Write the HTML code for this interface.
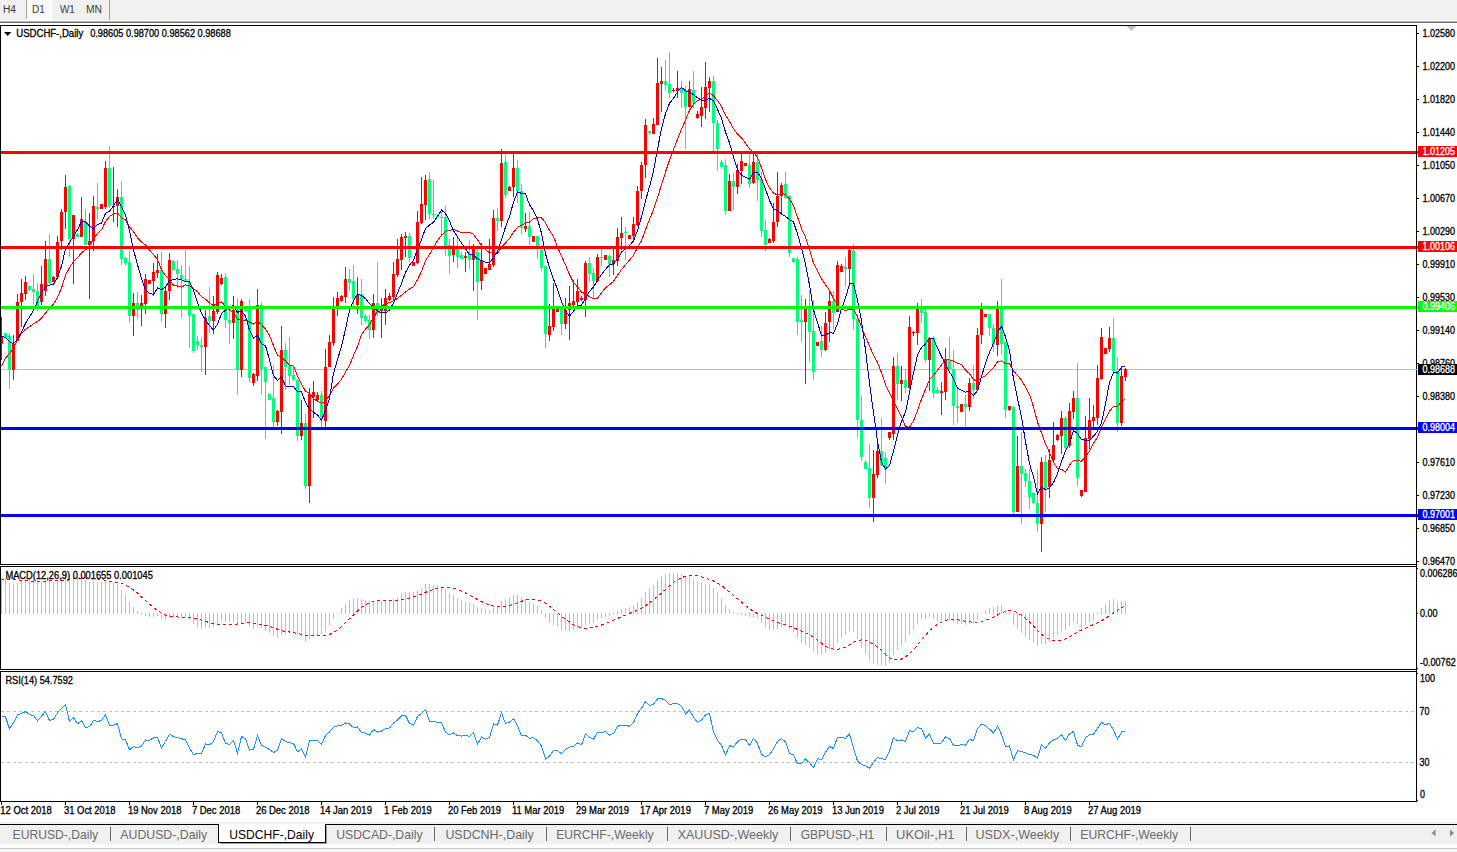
<!DOCTYPE html>
<html><head><meta charset="utf-8"><title>USDCHF-,Daily</title>
<style>html,body{margin:0;padding:0;background:#fff;overflow:hidden}body{width:1457px;height:852px;font-family:"Liberation Sans",sans-serif}</style></head>
<body>
<svg width="1457" height="852" viewBox="0 0 1457 852" style="display:block;font-family:'Liberation Sans',sans-serif">
<rect x="0" y="0" width="1457" height="852" fill="#fff"/>
<g shape-rendering="crispEdges">
<rect x="0" y="0" width="1457" height="20" fill="#f0f0f0"/>
<rect x="0" y="20" width="1457" height="1" fill="#fbfbfb"/>
<rect x="0" y="21" width="1457" height="1" fill="#b4b4b4"/>
<rect x="0" y="22" width="1457" height="1" fill="#6e6e6e"/>
<rect x="27" y="0" width="24" height="19" fill="#f8f8f8"/>
<rect x="51" y="0" width="1" height="20" fill="#fff"/>
<rect x="26" y="19" width="26" height="1" fill="#fff"/>
<rect x="26" y="0" width="1" height="19" fill="#a0a0a0"/>
<rect x="109" y="0" width="1" height="20" fill="#a0a0a0"/>
</g>
<text x="2.9" y="13" font-size="10" fill="#3a3a3a" textLength="13.0" lengthAdjust="spacingAndGlyphs">H4</text>
<text x="32.1" y="13" font-size="10" fill="#3a3a3a" textLength="12.8" lengthAdjust="spacingAndGlyphs">D1</text>
<text x="59.95" y="13" font-size="10" fill="#3a3a3a" textLength="14.85" lengthAdjust="spacingAndGlyphs">W1</text>
<text x="85.9" y="13" font-size="10" fill="#3a3a3a" textLength="16.1" lengthAdjust="spacingAndGlyphs">MN</text>
<g shape-rendering="crispEdges">
<rect x="1" y="369" width="1415" height="1" fill="#c0c0c0"/>
<rect x="1" y="317" width="1" height="43" fill="#ff0000"/>
<rect x="0" y="336" width="3" height="8" fill="#ff0000"/>
<rect x="5" y="333" width="1" height="5" fill="#00ff7f"/>
<rect x="4" y="333" width="3" height="5" fill="#00ff7f"/>
<rect x="9" y="333" width="1" height="56" fill="#00ff7f"/>
<rect x="8" y="336" width="3" height="34" fill="#00ff7f"/>
<rect x="13" y="335" width="1" height="45" fill="#ff0000"/>
<rect x="12" y="344" width="3" height="26" fill="#ff0000"/>
<rect x="17" y="294" width="1" height="47" fill="#ff0000"/>
<rect x="16" y="302" width="3" height="39" fill="#ff0000"/>
<rect x="21" y="279" width="1" height="48" fill="#ff0000"/>
<rect x="20" y="293" width="3" height="9" fill="#ff0000"/>
<rect x="25" y="276" width="1" height="24" fill="#ff0000"/>
<rect x="24" y="282" width="3" height="12" fill="#ff0000"/>
<rect x="29" y="286" width="1" height="5" fill="#00ff7f"/>
<rect x="28" y="286" width="3" height="4" fill="#00ff7f"/>
<rect x="33" y="274" width="1" height="31" fill="#00ff7f"/>
<rect x="32" y="289" width="3" height="3" fill="#00ff7f"/>
<rect x="37" y="283" width="1" height="28" fill="#00ff7f"/>
<rect x="36" y="291" width="3" height="15" fill="#00ff7f"/>
<rect x="41" y="266" width="1" height="39" fill="#ff0000"/>
<rect x="40" y="284" width="3" height="18" fill="#ff0000"/>
<rect x="45" y="241" width="1" height="55" fill="#ff0000"/>
<rect x="44" y="259" width="3" height="32" fill="#ff0000"/>
<rect x="49" y="234" width="1" height="50" fill="#00ff7f"/>
<rect x="48" y="259" width="3" height="24" fill="#00ff7f"/>
<rect x="53" y="276" width="1" height="6" fill="#ff0000"/>
<rect x="52" y="277" width="3" height="5" fill="#ff0000"/>
<rect x="57" y="236" width="1" height="41" fill="#ff0000"/>
<rect x="56" y="242" width="3" height="35" fill="#ff0000"/>
<rect x="61" y="209" width="1" height="41" fill="#ff0000"/>
<rect x="60" y="212" width="3" height="29" fill="#ff0000"/>
<rect x="65" y="175" width="1" height="54" fill="#ff0000"/>
<rect x="64" y="187" width="3" height="25" fill="#ff0000"/>
<rect x="69" y="185" width="1" height="72" fill="#00ff7f"/>
<rect x="68" y="186" width="3" height="53" fill="#00ff7f"/>
<rect x="73" y="215" width="1" height="69" fill="#ff0000"/>
<rect x="72" y="215" width="3" height="24" fill="#ff0000"/>
<rect x="77" y="233" width="1" height="4" fill="#00ff7f"/>
<rect x="76" y="234" width="3" height="3" fill="#00ff7f"/>
<rect x="81" y="197" width="1" height="40" fill="#ff0000"/>
<rect x="80" y="219" width="3" height="18" fill="#ff0000"/>
<rect x="85" y="209" width="1" height="36" fill="#00ff7f"/>
<rect x="84" y="222" width="3" height="23" fill="#00ff7f"/>
<rect x="89" y="213" width="1" height="86" fill="#ff0000"/>
<rect x="88" y="241" width="3" height="4" fill="#ff0000"/>
<rect x="93" y="196" width="1" height="55" fill="#ff0000"/>
<rect x="92" y="206" width="3" height="35" fill="#ff0000"/>
<rect x="97" y="183" width="1" height="36" fill="#00ff7f"/>
<rect x="96" y="207" width="3" height="2" fill="#00ff7f"/>
<rect x="101" y="204" width="1" height="5" fill="#ff0000"/>
<rect x="100" y="204" width="3" height="5" fill="#ff0000"/>
<rect x="105" y="161" width="1" height="48" fill="#ff0000"/>
<rect x="104" y="168" width="3" height="39" fill="#ff0000"/>
<rect x="109" y="146" width="1" height="62" fill="#00ff7f"/>
<rect x="108" y="168" width="3" height="38" fill="#00ff7f"/>
<rect x="113" y="167" width="1" height="55" fill="#ff0000"/>
<rect x="112" y="206" width="3" height="1" fill="#ff0000"/>
<rect x="117" y="189" width="1" height="38" fill="#ff0000"/>
<rect x="116" y="197" width="3" height="9" fill="#ff0000"/>
<rect x="121" y="181" width="1" height="84" fill="#00ff7f"/>
<rect x="120" y="197" width="3" height="62" fill="#00ff7f"/>
<rect x="125" y="257" width="1" height="9" fill="#00ff7f"/>
<rect x="124" y="258" width="3" height="5" fill="#00ff7f"/>
<rect x="129" y="251" width="1" height="72" fill="#00ff7f"/>
<rect x="128" y="262" width="3" height="54" fill="#00ff7f"/>
<rect x="133" y="293" width="1" height="43" fill="#ff0000"/>
<rect x="132" y="303" width="3" height="13" fill="#ff0000"/>
<rect x="137" y="292" width="1" height="27" fill="#00ff7f"/>
<rect x="136" y="303" width="3" height="7" fill="#00ff7f"/>
<rect x="141" y="295" width="1" height="31" fill="#ff0000"/>
<rect x="140" y="303" width="3" height="6" fill="#ff0000"/>
<rect x="145" y="274" width="1" height="40" fill="#ff0000"/>
<rect x="144" y="279" width="3" height="25" fill="#ff0000"/>
<rect x="149" y="280" width="1" height="4" fill="#ff0000"/>
<rect x="148" y="280" width="3" height="4" fill="#ff0000"/>
<rect x="153" y="263" width="1" height="33" fill="#ff0000"/>
<rect x="152" y="272" width="3" height="9" fill="#ff0000"/>
<rect x="157" y="254" width="1" height="24" fill="#ff0000"/>
<rect x="156" y="270" width="3" height="3" fill="#ff0000"/>
<rect x="161" y="252" width="1" height="70" fill="#00ff7f"/>
<rect x="160" y="270" width="3" height="44" fill="#00ff7f"/>
<rect x="165" y="286" width="1" height="42" fill="#ff0000"/>
<rect x="164" y="291" width="3" height="23" fill="#ff0000"/>
<rect x="169" y="253" width="1" height="47" fill="#ff0000"/>
<rect x="168" y="260" width="3" height="31" fill="#ff0000"/>
<rect x="173" y="260" width="1" height="11" fill="#00ff7f"/>
<rect x="172" y="261" width="3" height="9" fill="#00ff7f"/>
<rect x="177" y="260" width="1" height="28" fill="#00ff7f"/>
<rect x="176" y="269" width="3" height="5" fill="#00ff7f"/>
<rect x="181" y="265" width="1" height="53" fill="#00ff7f"/>
<rect x="180" y="275" width="3" height="4" fill="#00ff7f"/>
<rect x="185" y="250" width="1" height="32" fill="#00ff7f"/>
<rect x="184" y="279" width="3" height="3" fill="#00ff7f"/>
<rect x="189" y="266" width="1" height="82" fill="#00ff7f"/>
<rect x="188" y="282" width="3" height="34" fill="#00ff7f"/>
<rect x="193" y="314" width="1" height="39" fill="#00ff7f"/>
<rect x="192" y="314" width="3" height="37" fill="#00ff7f"/>
<rect x="197" y="336" width="1" height="14" fill="#00ff7f"/>
<rect x="196" y="341" width="3" height="4" fill="#00ff7f"/>
<rect x="201" y="338" width="1" height="34" fill="#00ff7f"/>
<rect x="200" y="345" width="3" height="2" fill="#00ff7f"/>
<rect x="205" y="310" width="1" height="65" fill="#ff0000"/>
<rect x="204" y="318" width="3" height="29" fill="#ff0000"/>
<rect x="209" y="287" width="1" height="46" fill="#00ff7f"/>
<rect x="208" y="316" width="3" height="5" fill="#00ff7f"/>
<rect x="213" y="296" width="1" height="38" fill="#ff0000"/>
<rect x="212" y="311" width="3" height="10" fill="#ff0000"/>
<rect x="217" y="272" width="1" height="42" fill="#ff0000"/>
<rect x="216" y="275" width="3" height="37" fill="#ff0000"/>
<rect x="221" y="274" width="1" height="11" fill="#ff0000"/>
<rect x="220" y="278" width="3" height="6" fill="#ff0000"/>
<rect x="225" y="273" width="1" height="55" fill="#00ff7f"/>
<rect x="224" y="277" width="3" height="43" fill="#00ff7f"/>
<rect x="229" y="311" width="1" height="33" fill="#00ff7f"/>
<rect x="228" y="320" width="3" height="3" fill="#00ff7f"/>
<rect x="233" y="296" width="1" height="43" fill="#ff0000"/>
<rect x="232" y="310" width="3" height="13" fill="#ff0000"/>
<rect x="237" y="298" width="1" height="97" fill="#00ff7f"/>
<rect x="236" y="310" width="3" height="60" fill="#00ff7f"/>
<rect x="241" y="299" width="1" height="78" fill="#ff0000"/>
<rect x="240" y="301" width="3" height="69" fill="#ff0000"/>
<rect x="245" y="307" width="1" height="5" fill="#00ff7f"/>
<rect x="244" y="308" width="3" height="3" fill="#00ff7f"/>
<rect x="249" y="299" width="1" height="83" fill="#00ff7f"/>
<rect x="248" y="310" width="3" height="68" fill="#00ff7f"/>
<rect x="253" y="373" width="1" height="13" fill="#ff0000"/>
<rect x="252" y="374" width="3" height="9" fill="#ff0000"/>
<rect x="257" y="289" width="1" height="92" fill="#ff0000"/>
<rect x="256" y="305" width="3" height="71" fill="#ff0000"/>
<rect x="261" y="302" width="1" height="93" fill="#00ff7f"/>
<rect x="260" y="305" width="3" height="64" fill="#00ff7f"/>
<rect x="265" y="367" width="1" height="72" fill="#00ff7f"/>
<rect x="264" y="367" width="3" height="15" fill="#00ff7f"/>
<rect x="269" y="393" width="1" height="7" fill="#00ff7f"/>
<rect x="268" y="394" width="3" height="6" fill="#00ff7f"/>
<rect x="273" y="365" width="1" height="62" fill="#00ff7f"/>
<rect x="272" y="398" width="3" height="24" fill="#00ff7f"/>
<rect x="277" y="410" width="1" height="16" fill="#ff0000"/>
<rect x="276" y="411" width="3" height="11" fill="#ff0000"/>
<rect x="281" y="326" width="1" height="108" fill="#ff0000"/>
<rect x="280" y="350" width="3" height="62" fill="#ff0000"/>
<rect x="285" y="343" width="1" height="47" fill="#00ff7f"/>
<rect x="284" y="350" width="3" height="17" fill="#00ff7f"/>
<rect x="289" y="337" width="1" height="48" fill="#00ff7f"/>
<rect x="288" y="366" width="3" height="10" fill="#00ff7f"/>
<rect x="293" y="367" width="1" height="14" fill="#00ff7f"/>
<rect x="292" y="375" width="3" height="5" fill="#00ff7f"/>
<rect x="297" y="379" width="1" height="62" fill="#00ff7f"/>
<rect x="296" y="380" width="3" height="56" fill="#00ff7f"/>
<rect x="301" y="400" width="1" height="40" fill="#ff0000"/>
<rect x="300" y="423" width="3" height="13" fill="#ff0000"/>
<rect x="305" y="414" width="1" height="75" fill="#00ff7f"/>
<rect x="304" y="423" width="3" height="63" fill="#00ff7f"/>
<rect x="309" y="388" width="1" height="115" fill="#ff0000"/>
<rect x="308" y="394" width="3" height="92" fill="#ff0000"/>
<rect x="313" y="381" width="1" height="37" fill="#ff0000"/>
<rect x="312" y="392" width="3" height="5" fill="#ff0000"/>
<rect x="317" y="392" width="1" height="10" fill="#ff0000"/>
<rect x="316" y="395" width="3" height="5" fill="#ff0000"/>
<rect x="321" y="391" width="1" height="36" fill="#00ff7f"/>
<rect x="320" y="395" width="3" height="22" fill="#00ff7f"/>
<rect x="325" y="349" width="1" height="78" fill="#ff0000"/>
<rect x="324" y="367" width="3" height="54" fill="#ff0000"/>
<rect x="329" y="335" width="1" height="32" fill="#ff0000"/>
<rect x="328" y="342" width="3" height="25" fill="#ff0000"/>
<rect x="333" y="297" width="1" height="49" fill="#ff0000"/>
<rect x="332" y="308" width="3" height="35" fill="#ff0000"/>
<rect x="337" y="292" width="1" height="24" fill="#ff0000"/>
<rect x="336" y="298" width="3" height="11" fill="#ff0000"/>
<rect x="341" y="295" width="1" height="7" fill="#ff0000"/>
<rect x="340" y="296" width="3" height="5" fill="#ff0000"/>
<rect x="345" y="267" width="1" height="36" fill="#ff0000"/>
<rect x="344" y="279" width="3" height="18" fill="#ff0000"/>
<rect x="349" y="269" width="1" height="22" fill="#00ff7f"/>
<rect x="348" y="279" width="3" height="4" fill="#00ff7f"/>
<rect x="353" y="265" width="1" height="44" fill="#00ff7f"/>
<rect x="352" y="281" width="3" height="18" fill="#00ff7f"/>
<rect x="357" y="277" width="1" height="37" fill="#ff0000"/>
<rect x="356" y="295" width="3" height="10" fill="#ff0000"/>
<rect x="361" y="279" width="1" height="46" fill="#00ff7f"/>
<rect x="360" y="294" width="3" height="24" fill="#00ff7f"/>
<rect x="365" y="314" width="1" height="9" fill="#00ff7f"/>
<rect x="364" y="316" width="3" height="5" fill="#00ff7f"/>
<rect x="369" y="315" width="1" height="24" fill="#00ff7f"/>
<rect x="368" y="320" width="3" height="10" fill="#00ff7f"/>
<rect x="373" y="294" width="1" height="44" fill="#ff0000"/>
<rect x="372" y="303" width="3" height="27" fill="#ff0000"/>
<rect x="377" y="262" width="1" height="54" fill="#00ff7f"/>
<rect x="376" y="303" width="3" height="10" fill="#00ff7f"/>
<rect x="381" y="298" width="1" height="40" fill="#ff0000"/>
<rect x="380" y="309" width="3" height="2" fill="#ff0000"/>
<rect x="385" y="289" width="1" height="36" fill="#ff0000"/>
<rect x="384" y="298" width="3" height="13" fill="#ff0000"/>
<rect x="389" y="293" width="1" height="8" fill="#ff0000"/>
<rect x="388" y="296" width="3" height="4" fill="#ff0000"/>
<rect x="393" y="262" width="1" height="38" fill="#ff0000"/>
<rect x="392" y="274" width="3" height="23" fill="#ff0000"/>
<rect x="397" y="239" width="1" height="38" fill="#ff0000"/>
<rect x="396" y="259" width="3" height="16" fill="#ff0000"/>
<rect x="401" y="234" width="1" height="36" fill="#ff0000"/>
<rect x="400" y="237" width="3" height="23" fill="#ff0000"/>
<rect x="405" y="232" width="1" height="25" fill="#ff0000"/>
<rect x="404" y="236" width="3" height="2" fill="#ff0000"/>
<rect x="409" y="233" width="1" height="29" fill="#00ff7f"/>
<rect x="408" y="236" width="3" height="22" fill="#00ff7f"/>
<rect x="413" y="262" width="1" height="4" fill="#ff0000"/>
<rect x="412" y="262" width="3" height="4" fill="#ff0000"/>
<rect x="417" y="211" width="1" height="53" fill="#ff0000"/>
<rect x="416" y="222" width="3" height="41" fill="#ff0000"/>
<rect x="421" y="177" width="1" height="47" fill="#ff0000"/>
<rect x="420" y="204" width="3" height="19" fill="#ff0000"/>
<rect x="425" y="175" width="1" height="45" fill="#ff0000"/>
<rect x="424" y="180" width="3" height="25" fill="#ff0000"/>
<rect x="429" y="172" width="1" height="47" fill="#00ff7f"/>
<rect x="428" y="179" width="3" height="35" fill="#00ff7f"/>
<rect x="433" y="180" width="1" height="39" fill="#00ff7f"/>
<rect x="432" y="214" width="3" height="1" fill="#00ff7f"/>
<rect x="437" y="216" width="1" height="1" fill="#00ff7f"/>
<rect x="436" y="216" width="3" height="1" fill="#00ff7f"/>
<rect x="441" y="212" width="1" height="22" fill="#00ff7f"/>
<rect x="440" y="217" width="3" height="1" fill="#00ff7f"/>
<rect x="445" y="205" width="1" height="51" fill="#00ff7f"/>
<rect x="444" y="217" width="3" height="29" fill="#00ff7f"/>
<rect x="449" y="239" width="1" height="35" fill="#00ff7f"/>
<rect x="448" y="245" width="3" height="11" fill="#00ff7f"/>
<rect x="453" y="237" width="1" height="25" fill="#ff0000"/>
<rect x="452" y="249" width="3" height="6" fill="#ff0000"/>
<rect x="457" y="238" width="1" height="30" fill="#00ff7f"/>
<rect x="456" y="249" width="3" height="8" fill="#00ff7f"/>
<rect x="461" y="252" width="1" height="7" fill="#00ff7f"/>
<rect x="460" y="255" width="3" height="4" fill="#00ff7f"/>
<rect x="465" y="252" width="1" height="20" fill="#ff0000"/>
<rect x="464" y="256" width="3" height="2" fill="#ff0000"/>
<rect x="469" y="240" width="1" height="29" fill="#00ff7f"/>
<rect x="468" y="254" width="3" height="6" fill="#00ff7f"/>
<rect x="473" y="244" width="1" height="47" fill="#ff0000"/>
<rect x="472" y="249" width="3" height="11" fill="#ff0000"/>
<rect x="477" y="249" width="1" height="71" fill="#00ff7f"/>
<rect x="476" y="252" width="3" height="30" fill="#00ff7f"/>
<rect x="481" y="243" width="1" height="47" fill="#ff0000"/>
<rect x="480" y="261" width="3" height="20" fill="#ff0000"/>
<rect x="485" y="268" width="1" height="6" fill="#ff0000"/>
<rect x="484" y="268" width="3" height="6" fill="#ff0000"/>
<rect x="489" y="239" width="1" height="31" fill="#ff0000"/>
<rect x="488" y="264" width="3" height="6" fill="#ff0000"/>
<rect x="493" y="210" width="1" height="57" fill="#ff0000"/>
<rect x="492" y="218" width="3" height="47" fill="#ff0000"/>
<rect x="497" y="208" width="1" height="23" fill="#00ff7f"/>
<rect x="496" y="218" width="3" height="3" fill="#00ff7f"/>
<rect x="501" y="149" width="1" height="78" fill="#ff0000"/>
<rect x="500" y="163" width="3" height="58" fill="#ff0000"/>
<rect x="505" y="155" width="1" height="43" fill="#00ff7f"/>
<rect x="504" y="162" width="3" height="33" fill="#00ff7f"/>
<rect x="509" y="186" width="1" height="5" fill="#ff0000"/>
<rect x="508" y="187" width="3" height="4" fill="#ff0000"/>
<rect x="513" y="152" width="1" height="45" fill="#ff0000"/>
<rect x="512" y="168" width="3" height="19" fill="#ff0000"/>
<rect x="517" y="160" width="1" height="43" fill="#00ff7f"/>
<rect x="516" y="168" width="3" height="23" fill="#00ff7f"/>
<rect x="521" y="184" width="1" height="50" fill="#00ff7f"/>
<rect x="520" y="191" width="3" height="37" fill="#00ff7f"/>
<rect x="525" y="213" width="1" height="19" fill="#ff0000"/>
<rect x="524" y="226" width="3" height="3" fill="#ff0000"/>
<rect x="529" y="212" width="1" height="33" fill="#00ff7f"/>
<rect x="528" y="226" width="3" height="11" fill="#00ff7f"/>
<rect x="533" y="236" width="1" height="6" fill="#ff0000"/>
<rect x="532" y="236" width="3" height="6" fill="#ff0000"/>
<rect x="537" y="236" width="1" height="23" fill="#00ff7f"/>
<rect x="536" y="236" width="3" height="11" fill="#00ff7f"/>
<rect x="541" y="245" width="1" height="26" fill="#00ff7f"/>
<rect x="540" y="250" width="3" height="18" fill="#00ff7f"/>
<rect x="545" y="266" width="1" height="82" fill="#00ff7f"/>
<rect x="544" y="266" width="3" height="68" fill="#00ff7f"/>
<rect x="549" y="304" width="1" height="37" fill="#ff0000"/>
<rect x="548" y="326" width="3" height="9" fill="#ff0000"/>
<rect x="553" y="283" width="1" height="48" fill="#ff0000"/>
<rect x="552" y="306" width="3" height="21" fill="#ff0000"/>
<rect x="557" y="308" width="1" height="4" fill="#ff0000"/>
<rect x="556" y="308" width="3" height="4" fill="#ff0000"/>
<rect x="561" y="306" width="1" height="29" fill="#00ff7f"/>
<rect x="560" y="309" width="3" height="15" fill="#00ff7f"/>
<rect x="565" y="298" width="1" height="31" fill="#ff0000"/>
<rect x="564" y="310" width="3" height="14" fill="#ff0000"/>
<rect x="569" y="286" width="1" height="54" fill="#ff0000"/>
<rect x="568" y="303" width="3" height="7" fill="#ff0000"/>
<rect x="573" y="280" width="1" height="26" fill="#ff0000"/>
<rect x="572" y="301" width="3" height="4" fill="#ff0000"/>
<rect x="577" y="279" width="1" height="27" fill="#ff0000"/>
<rect x="576" y="291" width="3" height="11" fill="#ff0000"/>
<rect x="581" y="296" width="1" height="5" fill="#ff0000"/>
<rect x="580" y="298" width="3" height="2" fill="#ff0000"/>
<rect x="585" y="261" width="1" height="56" fill="#ff0000"/>
<rect x="584" y="263" width="3" height="37" fill="#ff0000"/>
<rect x="589" y="257" width="1" height="25" fill="#00ff7f"/>
<rect x="588" y="263" width="3" height="11" fill="#00ff7f"/>
<rect x="593" y="268" width="1" height="30" fill="#00ff7f"/>
<rect x="592" y="273" width="3" height="8" fill="#00ff7f"/>
<rect x="597" y="254" width="1" height="27" fill="#ff0000"/>
<rect x="596" y="257" width="3" height="24" fill="#ff0000"/>
<rect x="601" y="249" width="1" height="17" fill="#00ff7f"/>
<rect x="600" y="257" width="3" height="1" fill="#00ff7f"/>
<rect x="605" y="255" width="1" height="5" fill="#ff0000"/>
<rect x="604" y="255" width="3" height="5" fill="#ff0000"/>
<rect x="609" y="254" width="1" height="23" fill="#00ff7f"/>
<rect x="608" y="256" width="3" height="8" fill="#00ff7f"/>
<rect x="613" y="249" width="1" height="26" fill="#ff0000"/>
<rect x="612" y="260" width="3" height="4" fill="#ff0000"/>
<rect x="617" y="228" width="1" height="38" fill="#ff0000"/>
<rect x="616" y="237" width="3" height="24" fill="#ff0000"/>
<rect x="621" y="217" width="1" height="33" fill="#ff0000"/>
<rect x="620" y="233" width="3" height="5" fill="#ff0000"/>
<rect x="625" y="227" width="1" height="33" fill="#00ff7f"/>
<rect x="624" y="232" width="3" height="1" fill="#00ff7f"/>
<rect x="629" y="235" width="1" height="4" fill="#ff0000"/>
<rect x="628" y="235" width="3" height="4" fill="#ff0000"/>
<rect x="633" y="217" width="1" height="23" fill="#ff0000"/>
<rect x="632" y="224" width="3" height="12" fill="#ff0000"/>
<rect x="637" y="186" width="1" height="40" fill="#ff0000"/>
<rect x="636" y="191" width="3" height="34" fill="#ff0000"/>
<rect x="641" y="162" width="1" height="37" fill="#ff0000"/>
<rect x="640" y="165" width="3" height="26" fill="#ff0000"/>
<rect x="645" y="119" width="1" height="59" fill="#ff0000"/>
<rect x="644" y="125" width="3" height="40" fill="#ff0000"/>
<rect x="649" y="131" width="1" height="4" fill="#00ff7f"/>
<rect x="648" y="131" width="3" height="2" fill="#00ff7f"/>
<rect x="653" y="118" width="1" height="16" fill="#ff0000"/>
<rect x="652" y="124" width="3" height="10" fill="#ff0000"/>
<rect x="657" y="58" width="1" height="67" fill="#ff0000"/>
<rect x="656" y="83" width="3" height="42" fill="#ff0000"/>
<rect x="661" y="67" width="1" height="45" fill="#ff0000"/>
<rect x="660" y="81" width="3" height="3" fill="#ff0000"/>
<rect x="665" y="60" width="1" height="31" fill="#00ff7f"/>
<rect x="664" y="81" width="3" height="4" fill="#00ff7f"/>
<rect x="669" y="52" width="1" height="46" fill="#00ff7f"/>
<rect x="668" y="84" width="3" height="9" fill="#00ff7f"/>
<rect x="673" y="88" width="1" height="4" fill="#ff0000"/>
<rect x="672" y="90" width="3" height="1" fill="#ff0000"/>
<rect x="677" y="71" width="1" height="27" fill="#ff0000"/>
<rect x="676" y="88" width="3" height="3" fill="#ff0000"/>
<rect x="681" y="81" width="1" height="27" fill="#00ff7f"/>
<rect x="680" y="89" width="3" height="4" fill="#00ff7f"/>
<rect x="685" y="86" width="1" height="63" fill="#00ff7f"/>
<rect x="684" y="90" width="3" height="17" fill="#00ff7f"/>
<rect x="689" y="81" width="1" height="27" fill="#ff0000"/>
<rect x="688" y="89" width="3" height="18" fill="#ff0000"/>
<rect x="693" y="71" width="1" height="37" fill="#00ff7f"/>
<rect x="692" y="90" width="3" height="13" fill="#00ff7f"/>
<rect x="697" y="111" width="1" height="8" fill="#ff0000"/>
<rect x="696" y="114" width="3" height="4" fill="#ff0000"/>
<rect x="701" y="87" width="1" height="40" fill="#ff0000"/>
<rect x="700" y="107" width="3" height="9" fill="#ff0000"/>
<rect x="705" y="62" width="1" height="57" fill="#ff0000"/>
<rect x="704" y="87" width="3" height="21" fill="#ff0000"/>
<rect x="709" y="77" width="1" height="35" fill="#ff0000"/>
<rect x="708" y="81" width="3" height="7" fill="#ff0000"/>
<rect x="713" y="76" width="1" height="75" fill="#00ff7f"/>
<rect x="712" y="81" width="3" height="42" fill="#00ff7f"/>
<rect x="717" y="120" width="1" height="51" fill="#00ff7f"/>
<rect x="716" y="123" width="3" height="26" fill="#00ff7f"/>
<rect x="721" y="160" width="1" height="9" fill="#00ff7f"/>
<rect x="720" y="162" width="3" height="5" fill="#00ff7f"/>
<rect x="725" y="159" width="1" height="56" fill="#00ff7f"/>
<rect x="724" y="165" width="3" height="46" fill="#00ff7f"/>
<rect x="729" y="174" width="1" height="37" fill="#ff0000"/>
<rect x="728" y="181" width="3" height="30" fill="#ff0000"/>
<rect x="733" y="173" width="1" height="37" fill="#00ff7f"/>
<rect x="732" y="181" width="3" height="6" fill="#00ff7f"/>
<rect x="737" y="164" width="1" height="30" fill="#ff0000"/>
<rect x="736" y="170" width="3" height="17" fill="#ff0000"/>
<rect x="741" y="153" width="1" height="31" fill="#ff0000"/>
<rect x="740" y="161" width="3" height="10" fill="#ff0000"/>
<rect x="745" y="163" width="1" height="3" fill="#ff0000"/>
<rect x="744" y="163" width="3" height="3" fill="#ff0000"/>
<rect x="749" y="153" width="1" height="35" fill="#00ff7f"/>
<rect x="748" y="165" width="3" height="19" fill="#00ff7f"/>
<rect x="753" y="154" width="1" height="30" fill="#ff0000"/>
<rect x="752" y="162" width="3" height="21" fill="#ff0000"/>
<rect x="757" y="153" width="1" height="48" fill="#00ff7f"/>
<rect x="756" y="162" width="3" height="18" fill="#00ff7f"/>
<rect x="761" y="172" width="1" height="65" fill="#00ff7f"/>
<rect x="760" y="179" width="3" height="52" fill="#00ff7f"/>
<rect x="765" y="220" width="1" height="31" fill="#00ff7f"/>
<rect x="764" y="230" width="3" height="15" fill="#00ff7f"/>
<rect x="769" y="238" width="1" height="5" fill="#ff0000"/>
<rect x="768" y="239" width="3" height="4" fill="#ff0000"/>
<rect x="773" y="203" width="1" height="40" fill="#ff0000"/>
<rect x="772" y="222" width="3" height="19" fill="#ff0000"/>
<rect x="777" y="172" width="1" height="55" fill="#ff0000"/>
<rect x="776" y="196" width="3" height="26" fill="#ff0000"/>
<rect x="781" y="183" width="1" height="32" fill="#ff0000"/>
<rect x="780" y="185" width="3" height="11" fill="#ff0000"/>
<rect x="785" y="172" width="1" height="27" fill="#00ff7f"/>
<rect x="784" y="184" width="3" height="14" fill="#00ff7f"/>
<rect x="789" y="195" width="1" height="62" fill="#00ff7f"/>
<rect x="788" y="196" width="3" height="57" fill="#00ff7f"/>
<rect x="793" y="258" width="1" height="5" fill="#00ff7f"/>
<rect x="792" y="258" width="3" height="4" fill="#00ff7f"/>
<rect x="797" y="257" width="1" height="78" fill="#00ff7f"/>
<rect x="796" y="259" width="3" height="63" fill="#00ff7f"/>
<rect x="801" y="295" width="1" height="47" fill="#00ff7f"/>
<rect x="800" y="320" width="3" height="2" fill="#00ff7f"/>
<rect x="805" y="299" width="1" height="85" fill="#ff0000"/>
<rect x="804" y="308" width="3" height="14" fill="#ff0000"/>
<rect x="809" y="290" width="1" height="72" fill="#00ff7f"/>
<rect x="808" y="308" width="3" height="24" fill="#00ff7f"/>
<rect x="813" y="300" width="1" height="80" fill="#00ff7f"/>
<rect x="812" y="331" width="3" height="41" fill="#00ff7f"/>
<rect x="817" y="342" width="1" height="4" fill="#ff0000"/>
<rect x="816" y="342" width="3" height="4" fill="#ff0000"/>
<rect x="821" y="326" width="1" height="31" fill="#00ff7f"/>
<rect x="820" y="341" width="3" height="9" fill="#00ff7f"/>
<rect x="825" y="312" width="1" height="39" fill="#ff0000"/>
<rect x="824" y="323" width="3" height="27" fill="#ff0000"/>
<rect x="829" y="290" width="1" height="52" fill="#ff0000"/>
<rect x="828" y="301" width="3" height="21" fill="#ff0000"/>
<rect x="833" y="291" width="1" height="38" fill="#00ff7f"/>
<rect x="832" y="301" width="3" height="12" fill="#00ff7f"/>
<rect x="837" y="261" width="1" height="51" fill="#ff0000"/>
<rect x="836" y="265" width="3" height="47" fill="#ff0000"/>
<rect x="841" y="264" width="1" height="8" fill="#ff0000"/>
<rect x="840" y="266" width="3" height="6" fill="#ff0000"/>
<rect x="845" y="257" width="1" height="30" fill="#00ff7f"/>
<rect x="844" y="267" width="3" height="2" fill="#00ff7f"/>
<rect x="849" y="248" width="1" height="37" fill="#ff0000"/>
<rect x="848" y="250" width="3" height="19" fill="#ff0000"/>
<rect x="853" y="244" width="1" height="86" fill="#00ff7f"/>
<rect x="852" y="251" width="3" height="68" fill="#00ff7f"/>
<rect x="857" y="318" width="1" height="120" fill="#00ff7f"/>
<rect x="856" y="319" width="3" height="101" fill="#00ff7f"/>
<rect x="861" y="396" width="1" height="65" fill="#00ff7f"/>
<rect x="860" y="420" width="3" height="37" fill="#00ff7f"/>
<rect x="865" y="460" width="1" height="9" fill="#00ff7f"/>
<rect x="864" y="462" width="3" height="7" fill="#00ff7f"/>
<rect x="869" y="444" width="1" height="64" fill="#00ff7f"/>
<rect x="868" y="468" width="3" height="30" fill="#00ff7f"/>
<rect x="873" y="450" width="1" height="72" fill="#ff0000"/>
<rect x="872" y="474" width="3" height="24" fill="#ff0000"/>
<rect x="877" y="444" width="1" height="34" fill="#ff0000"/>
<rect x="876" y="451" width="3" height="24" fill="#ff0000"/>
<rect x="881" y="418" width="1" height="48" fill="#00ff7f"/>
<rect x="880" y="451" width="3" height="15" fill="#00ff7f"/>
<rect x="885" y="452" width="1" height="32" fill="#00ff7f"/>
<rect x="884" y="458" width="3" height="11" fill="#00ff7f"/>
<rect x="889" y="432" width="1" height="8" fill="#ff0000"/>
<rect x="888" y="432" width="3" height="6" fill="#ff0000"/>
<rect x="893" y="357" width="1" height="83" fill="#ff0000"/>
<rect x="892" y="366" width="3" height="68" fill="#ff0000"/>
<rect x="897" y="353" width="1" height="47" fill="#00ff7f"/>
<rect x="896" y="366" width="3" height="18" fill="#00ff7f"/>
<rect x="901" y="366" width="1" height="35" fill="#ff0000"/>
<rect x="900" y="380" width="3" height="4" fill="#ff0000"/>
<rect x="905" y="369" width="1" height="24" fill="#00ff7f"/>
<rect x="904" y="380" width="3" height="8" fill="#00ff7f"/>
<rect x="909" y="316" width="1" height="73" fill="#ff0000"/>
<rect x="908" y="327" width="3" height="61" fill="#ff0000"/>
<rect x="913" y="331" width="1" height="5" fill="#ff0000"/>
<rect x="912" y="332" width="3" height="1" fill="#ff0000"/>
<rect x="917" y="303" width="1" height="42" fill="#ff0000"/>
<rect x="916" y="308" width="3" height="25" fill="#ff0000"/>
<rect x="921" y="299" width="1" height="24" fill="#00ff7f"/>
<rect x="920" y="308" width="3" height="5" fill="#00ff7f"/>
<rect x="925" y="308" width="1" height="55" fill="#00ff7f"/>
<rect x="924" y="312" width="3" height="48" fill="#00ff7f"/>
<rect x="929" y="337" width="1" height="54" fill="#ff0000"/>
<rect x="928" y="338" width="3" height="22" fill="#ff0000"/>
<rect x="933" y="336" width="1" height="62" fill="#00ff7f"/>
<rect x="932" y="338" width="3" height="55" fill="#00ff7f"/>
<rect x="937" y="387" width="1" height="7" fill="#00ff7f"/>
<rect x="936" y="390" width="3" height="3" fill="#00ff7f"/>
<rect x="941" y="382" width="1" height="33" fill="#ff0000"/>
<rect x="940" y="391" width="3" height="2" fill="#ff0000"/>
<rect x="945" y="348" width="1" height="52" fill="#ff0000"/>
<rect x="944" y="359" width="3" height="33" fill="#ff0000"/>
<rect x="949" y="337" width="1" height="32" fill="#00ff7f"/>
<rect x="948" y="360" width="3" height="9" fill="#00ff7f"/>
<rect x="953" y="350" width="1" height="75" fill="#00ff7f"/>
<rect x="952" y="369" width="3" height="37" fill="#00ff7f"/>
<rect x="957" y="388" width="1" height="35" fill="#00ff7f"/>
<rect x="956" y="406" width="3" height="2" fill="#00ff7f"/>
<rect x="961" y="404" width="1" height="8" fill="#ff0000"/>
<rect x="960" y="404" width="3" height="8" fill="#ff0000"/>
<rect x="965" y="395" width="1" height="32" fill="#00ff7f"/>
<rect x="964" y="404" width="3" height="3" fill="#00ff7f"/>
<rect x="969" y="378" width="1" height="33" fill="#ff0000"/>
<rect x="968" y="383" width="3" height="24" fill="#ff0000"/>
<rect x="973" y="365" width="1" height="34" fill="#00ff7f"/>
<rect x="972" y="383" width="3" height="7" fill="#00ff7f"/>
<rect x="977" y="328" width="1" height="62" fill="#ff0000"/>
<rect x="976" y="335" width="3" height="55" fill="#ff0000"/>
<rect x="981" y="303" width="1" height="41" fill="#ff0000"/>
<rect x="980" y="309" width="3" height="26" fill="#ff0000"/>
<rect x="985" y="314" width="1" height="3" fill="#ff0000"/>
<rect x="984" y="314" width="3" height="3" fill="#ff0000"/>
<rect x="989" y="314" width="1" height="22" fill="#00ff7f"/>
<rect x="988" y="314" width="3" height="14" fill="#00ff7f"/>
<rect x="993" y="324" width="1" height="28" fill="#00ff7f"/>
<rect x="992" y="328" width="3" height="16" fill="#00ff7f"/>
<rect x="997" y="301" width="1" height="55" fill="#ff0000"/>
<rect x="996" y="309" width="3" height="36" fill="#ff0000"/>
<rect x="1001" y="279" width="1" height="76" fill="#00ff7f"/>
<rect x="1000" y="309" width="3" height="35" fill="#00ff7f"/>
<rect x="1005" y="342" width="1" height="76" fill="#00ff7f"/>
<rect x="1004" y="342" width="3" height="68" fill="#00ff7f"/>
<rect x="1009" y="406" width="1" height="5" fill="#ff0000"/>
<rect x="1008" y="406" width="3" height="4" fill="#ff0000"/>
<rect x="1013" y="406" width="1" height="108" fill="#00ff7f"/>
<rect x="1012" y="407" width="3" height="105" fill="#00ff7f"/>
<rect x="1017" y="436" width="1" height="76" fill="#ff0000"/>
<rect x="1016" y="466" width="3" height="46" fill="#ff0000"/>
<rect x="1021" y="432" width="1" height="92" fill="#00ff7f"/>
<rect x="1020" y="466" width="3" height="8" fill="#00ff7f"/>
<rect x="1025" y="469" width="1" height="18" fill="#00ff7f"/>
<rect x="1024" y="473" width="3" height="8" fill="#00ff7f"/>
<rect x="1029" y="469" width="1" height="40" fill="#00ff7f"/>
<rect x="1028" y="481" width="3" height="16" fill="#00ff7f"/>
<rect x="1033" y="492" width="1" height="12" fill="#00ff7f"/>
<rect x="1032" y="493" width="3" height="10" fill="#00ff7f"/>
<rect x="1037" y="469" width="1" height="63" fill="#00ff7f"/>
<rect x="1036" y="503" width="3" height="21" fill="#00ff7f"/>
<rect x="1041" y="457" width="1" height="95" fill="#ff0000"/>
<rect x="1040" y="462" width="3" height="62" fill="#ff0000"/>
<rect x="1045" y="455" width="1" height="57" fill="#00ff7f"/>
<rect x="1044" y="462" width="3" height="26" fill="#00ff7f"/>
<rect x="1049" y="449" width="1" height="49" fill="#ff0000"/>
<rect x="1048" y="460" width="3" height="27" fill="#ff0000"/>
<rect x="1053" y="422" width="1" height="40" fill="#ff0000"/>
<rect x="1052" y="445" width="3" height="15" fill="#ff0000"/>
<rect x="1057" y="434" width="1" height="7" fill="#ff0000"/>
<rect x="1056" y="435" width="3" height="5" fill="#ff0000"/>
<rect x="1061" y="411" width="1" height="43" fill="#ff0000"/>
<rect x="1060" y="418" width="3" height="18" fill="#ff0000"/>
<rect x="1065" y="416" width="1" height="33" fill="#00ff7f"/>
<rect x="1064" y="418" width="3" height="30" fill="#00ff7f"/>
<rect x="1069" y="403" width="1" height="45" fill="#ff0000"/>
<rect x="1068" y="411" width="3" height="35" fill="#ff0000"/>
<rect x="1073" y="391" width="1" height="28" fill="#ff0000"/>
<rect x="1072" y="398" width="3" height="14" fill="#ff0000"/>
<rect x="1077" y="363" width="1" height="123" fill="#00ff7f"/>
<rect x="1076" y="398" width="3" height="80" fill="#00ff7f"/>
<rect x="1081" y="490" width="1" height="7" fill="#ff0000"/>
<rect x="1080" y="490" width="3" height="6" fill="#ff0000"/>
<rect x="1085" y="416" width="1" height="76" fill="#ff0000"/>
<rect x="1084" y="438" width="3" height="54" fill="#ff0000"/>
<rect x="1089" y="398" width="1" height="51" fill="#ff0000"/>
<rect x="1088" y="420" width="3" height="19" fill="#ff0000"/>
<rect x="1093" y="405" width="1" height="22" fill="#ff0000"/>
<rect x="1092" y="417" width="3" height="4" fill="#ff0000"/>
<rect x="1097" y="365" width="1" height="60" fill="#ff0000"/>
<rect x="1096" y="378" width="3" height="40" fill="#ff0000"/>
<rect x="1101" y="328" width="1" height="52" fill="#ff0000"/>
<rect x="1100" y="337" width="3" height="42" fill="#ff0000"/>
<rect x="1105" y="348" width="1" height="6" fill="#ff0000"/>
<rect x="1104" y="348" width="3" height="6" fill="#ff0000"/>
<rect x="1109" y="327" width="1" height="25" fill="#ff0000"/>
<rect x="1108" y="338" width="3" height="11" fill="#ff0000"/>
<rect x="1113" y="318" width="1" height="55" fill="#00ff7f"/>
<rect x="1112" y="338" width="3" height="33" fill="#00ff7f"/>
<rect x="1117" y="357" width="1" height="75" fill="#00ff7f"/>
<rect x="1116" y="371" width="3" height="52" fill="#00ff7f"/>
<rect x="1121" y="366" width="1" height="60" fill="#ff0000"/>
<rect x="1120" y="376" width="3" height="47" fill="#ff0000"/>
<rect x="1125" y="368" width="1" height="13" fill="#ff0000"/>
<rect x="1124" y="369" width="3" height="8" fill="#ff0000"/>
</g>
<polyline points="1.5,365.7 5.5,358.1 9.5,353.4 13.5,348.0 17.5,339.9 21.5,333.3 25.5,329.2 29.5,326.7 33.5,323.8 37.5,321.5 41.5,318.3 45.5,312.9 49.5,308.5 53.5,303.9 57.5,297.2 61.5,288.2 65.5,275.2 69.5,267.7 73.5,261.4 77.5,257.4 81.5,252.9 85.5,249.8 89.5,246.1 93.5,239.0 97.5,233.6 101.5,229.8 105.5,221.5 109.5,216.5 113.5,213.8 117.5,212.8 121.5,217.9 125.5,219.7 129.5,226.9 133.5,231.6 137.5,238.0 141.5,242.2 145.5,244.9 149.5,250.1 153.5,254.6 157.5,259.3 161.5,269.8 165.5,275.8 169.5,279.7 173.5,285.0 177.5,286.0 181.5,287.2 185.5,284.8 189.5,285.7 193.5,288.7 197.5,291.7 201.5,296.5 205.5,299.2 209.5,302.8 213.5,305.7 217.5,302.9 221.5,302.0 225.5,306.3 229.5,310.1 233.5,312.6 237.5,319.1 241.5,320.4 245.5,320.0 249.5,322.0 253.5,324.0 257.5,321.0 261.5,324.7 265.5,329.1 269.5,335.4 273.5,345.8 277.5,355.3 281.5,357.5 285.5,360.7 289.5,365.4 293.5,366.1 297.5,375.8 301.5,383.8 305.5,391.4 309.5,392.9 313.5,399.1 317.5,400.9 321.5,403.4 325.5,401.0 329.5,395.3 333.5,387.9 337.5,384.2 341.5,379.1 345.5,372.2 349.5,365.3 353.5,355.5 357.5,346.4 361.5,334.4 365.5,329.2 369.5,324.7 373.5,318.2 377.5,310.8 381.5,306.7 385.5,303.6 389.5,302.7 393.5,300.9 397.5,298.3 401.5,295.3 405.5,291.9 409.5,288.9 413.5,286.6 417.5,279.7 421.5,271.3 425.5,260.7 429.5,254.3 433.5,247.3 437.5,240.8 441.5,235.1 445.5,231.5 449.5,230.2 453.5,229.5 457.5,231.0 461.5,232.6 465.5,232.5 469.5,232.3 473.5,234.3 477.5,239.8 481.5,245.6 485.5,249.5 489.5,252.9 493.5,253.0 497.5,253.2 501.5,247.3 505.5,242.9 509.5,238.5 513.5,232.2 517.5,227.4 521.5,225.4 525.5,222.9 529.5,222.1 533.5,218.8 537.5,217.8 541.5,217.7 545.5,222.8 549.5,230.5 553.5,236.6 557.5,247.0 561.5,256.2 565.5,265.0 569.5,274.6 573.5,282.4 577.5,286.9 581.5,292.0 585.5,293.9 589.5,296.6 593.5,299.0 597.5,298.3 601.5,292.8 605.5,287.8 609.5,284.8 613.5,281.4 617.5,275.2 621.5,269.6 625.5,264.6 629.5,260.0 633.5,255.2 637.5,247.6 641.5,240.6 645.5,229.9 649.5,219.4 653.5,209.9 657.5,197.3 661.5,184.9 665.5,172.1 669.5,160.1 673.5,149.6 677.5,139.2 681.5,129.2 685.5,120.0 689.5,110.4 693.5,104.1 697.5,100.5 701.5,99.3 705.5,96.0 709.5,92.9 713.5,95.8 717.5,100.6 721.5,106.5 725.5,115.0 729.5,121.5 733.5,128.6 737.5,134.1 741.5,137.9 745.5,143.2 749.5,149.0 753.5,152.3 757.5,157.5 761.5,167.8 765.5,179.5 769.5,187.8 773.5,193.0 777.5,195.0 781.5,193.2 785.5,194.4 789.5,199.1 793.5,205.6 797.5,217.1 801.5,228.5 805.5,237.3 809.5,249.5 813.5,263.2 817.5,271.1 821.5,278.7 825.5,284.7 829.5,290.4 833.5,298.7 837.5,304.4 841.5,309.2 845.5,310.4 849.5,309.6 853.5,309.4 857.5,316.4 861.5,327.1 865.5,336.9 869.5,345.9 873.5,355.3 877.5,362.5 881.5,372.7 885.5,384.7 889.5,393.2 893.5,400.4 897.5,408.9 901.5,416.8 905.5,426.7 909.5,427.2 913.5,420.9 917.5,410.4 921.5,399.2 925.5,389.3 929.5,379.6 933.5,375.5 937.5,370.3 941.5,364.7 945.5,359.4 949.5,359.7 953.5,361.3 957.5,363.3 961.5,364.4 965.5,370.1 969.5,373.7 973.5,379.6 977.5,381.2 981.5,377.5 985.5,375.8 989.5,371.2 993.5,367.7 997.5,361.8 1001.5,360.8 1005.5,363.6 1009.5,363.6 1013.5,371.0 1017.5,375.4 1021.5,380.2 1025.5,387.2 1029.5,394.8 1033.5,406.9 1037.5,422.2 1041.5,432.8 1045.5,444.2 1049.5,452.4 1053.5,462.2 1057.5,468.7 1061.5,469.3 1065.5,472.3 1069.5,465.1 1073.5,460.2 1077.5,460.6 1081.5,461.2 1085.5,457.0 1089.5,451.1 1093.5,443.4 1097.5,437.4 1101.5,426.7 1105.5,418.7 1109.5,411.1 1113.5,406.5 1117.5,406.8 1121.5,401.7 1125.5,398.7" fill="none" stroke="#ff0000" stroke-width="1" shape-rendering="crispEdges"/>
<polyline points="1.5,336.5 5.5,337.3 9.5,341.8 13.5,343.8 17.5,339.3 21.5,331.8 25.5,323.5 29.5,316.9 33.5,310.4 37.5,301.3 41.5,292.7 45.5,286.5 49.5,285.1 53.5,284.4 57.5,277.6 61.5,266.1 65.5,249.1 69.5,242.6 73.5,236.4 77.5,229.8 81.5,221.5 85.5,222.0 89.5,226.2 93.5,228.9 97.5,224.6 101.5,223.1 105.5,213.3 109.5,211.4 113.5,205.7 117.5,199.3 121.5,207.0 125.5,214.7 129.5,230.6 133.5,249.9 137.5,264.7 141.5,278.6 145.5,290.4 149.5,293.3 153.5,294.6 157.5,288.0 161.5,289.7 165.5,287.0 169.5,280.8 173.5,279.5 177.5,278.8 181.5,279.8 185.5,281.5 189.5,281.8 193.5,290.4 197.5,302.5 201.5,313.5 205.5,319.7 209.5,325.7 213.5,329.9 217.5,324.0 221.5,313.6 225.5,310.1 229.5,306.6 233.5,305.5 237.5,312.4 241.5,310.9 245.5,316.0 249.5,330.3 253.5,338.0 257.5,335.4 261.5,343.9 265.5,345.7 269.5,359.8 273.5,375.6 277.5,380.4 281.5,377.0 285.5,385.9 289.5,386.9 293.5,386.5 297.5,391.7 301.5,391.9 305.5,402.5 309.5,408.8 313.5,412.3 317.5,415.0 321.5,420.2 325.5,410.3 329.5,398.7 333.5,373.4 337.5,359.7 341.5,346.0 345.5,329.4 349.5,310.3 353.5,300.7 357.5,294.0 361.5,295.4 365.5,298.7 369.5,303.5 373.5,307.0 377.5,311.3 381.5,312.7 385.5,313.1 389.5,309.9 393.5,303.1 397.5,293.0 401.5,283.5 405.5,272.5 409.5,265.1 413.5,260.1 417.5,249.5 421.5,239.6 425.5,228.3 429.5,225.1 433.5,222.2 437.5,216.4 441.5,210.1 445.5,213.5 449.5,220.9 453.5,230.7 457.5,236.9 461.5,243.1 465.5,248.6 469.5,254.6 473.5,255.0 477.5,258.8 481.5,260.5 485.5,262.1 489.5,262.8 493.5,257.4 497.5,251.8 501.5,239.5 505.5,227.0 509.5,216.5 513.5,202.2 517.5,191.9 521.5,193.4 525.5,194.0 529.5,204.7 533.5,210.6 537.5,219.1 541.5,233.3 545.5,253.7 549.5,267.7 553.5,279.1 557.5,289.3 561.5,301.9 565.5,310.9 569.5,316.0 573.5,311.2 577.5,306.1 581.5,305.0 585.5,298.4 589.5,291.4 593.5,287.1 597.5,280.6 601.5,274.5 605.5,269.4 609.5,264.6 613.5,264.3 617.5,259.0 621.5,252.1 625.5,248.7 629.5,245.4 633.5,241.0 637.5,230.5 641.5,216.9 645.5,200.9 649.5,186.6 653.5,171.1 657.5,149.3 661.5,128.8 665.5,113.7 669.5,103.3 673.5,98.3 677.5,91.9 681.5,87.4 685.5,90.8 689.5,91.9 693.5,94.6 697.5,97.7 701.5,100.2 705.5,100.1 709.5,98.4 713.5,100.8 717.5,109.3 721.5,118.5 725.5,132.2 729.5,142.8 733.5,157.1 737.5,169.7 741.5,175.1 745.5,177.2 749.5,179.5 753.5,172.5 757.5,172.2 761.5,178.6 765.5,189.3 769.5,200.4 773.5,208.8 777.5,210.6 781.5,213.9 785.5,216.5 789.5,219.6 793.5,222.0 797.5,233.8 801.5,248.2 805.5,264.1 809.5,285.0 813.5,309.9 817.5,322.7 821.5,335.4 825.5,335.6 829.5,332.6 833.5,333.3 837.5,323.8 841.5,308.6 845.5,298.1 849.5,283.9 853.5,283.3 857.5,300.3 861.5,320.9 865.5,350.0 869.5,383.1 873.5,412.5 877.5,441.1 881.5,462.1 885.5,469.0 889.5,465.6 893.5,450.9 897.5,434.6 901.5,421.2 905.5,412.2 909.5,392.4 913.5,372.9 917.5,355.2 921.5,347.5 925.5,344.1 929.5,338.1 933.5,338.8 937.5,348.2 941.5,356.5 945.5,363.7 949.5,371.8 953.5,378.5 957.5,388.5 961.5,390.1 965.5,392.1 969.5,391.0 973.5,395.5 977.5,390.5 981.5,376.6 985.5,363.2 989.5,352.4 993.5,343.3 997.5,332.7 1001.5,326.1 1005.5,336.8 1009.5,350.7 1013.5,378.9 1017.5,398.5 1021.5,417.0 1025.5,441.7 1029.5,463.6 1033.5,477.0 1037.5,493.8 1041.5,486.8 1045.5,489.8 1049.5,487.8 1053.5,482.6 1057.5,473.8 1061.5,461.6 1065.5,450.7 1069.5,443.4 1073.5,430.6 1077.5,433.3 1081.5,439.8 1085.5,440.2 1089.5,440.5 1093.5,436.1 1097.5,431.4 1101.5,422.7 1105.5,404.1 1109.5,382.4 1113.5,372.7 1117.5,373.1 1121.5,367.2 1125.5,365.9" fill="none" stroke="#0000cd" stroke-width="1" shape-rendering="crispEdges"/>
<g shape-rendering="crispEdges">
<rect x="1" y="151" width="1417" height="3" fill="#ff0000"/>
<rect x="1" y="246" width="1417" height="3" fill="#ff0000"/>
<rect x="1" y="306" width="1417" height="3" fill="#00ff00"/>
<rect x="1" y="427" width="1417" height="3" fill="#0000ff"/>
<rect x="1" y="514" width="1417" height="3" fill="#0000ff"/>
</g>
<g shape-rendering="crispEdges" fill="#000">
<rect x="0" y="25" width="1417" height="1"/>
<rect x="0" y="25" width="1" height="777"/>
<rect x="1416" y="25" width="1" height="777"/>
<rect x="0" y="564" width="1417" height="1"/>
<rect x="0" y="566" width="1417" height="1"/>
<rect x="0" y="669" width="1417" height="1"/>
<rect x="0" y="671" width="1417" height="1"/>
<rect x="0" y="801" width="1417" height="1"/>
<rect x="0" y="565" width="1416" height="1" fill="#fff"/>
<rect x="0" y="670" width="1416" height="1" fill="#fff"/>
<rect x="1416" y="369" width="1" height="1" fill="#c0c0c0"/>
</g>
<g shape-rendering="crispEdges" fill="#000">
<rect x="1417" y="33" width="2" height="1"/>
<rect x="1417" y="66" width="2" height="1"/>
<rect x="1417" y="99" width="2" height="1"/>
<rect x="1417" y="132" width="2" height="1"/>
<rect x="1417" y="165" width="2" height="1"/>
<rect x="1417" y="198" width="2" height="1"/>
<rect x="1417" y="231" width="2" height="1"/>
<rect x="1417" y="264" width="2" height="1"/>
<rect x="1417" y="297" width="2" height="1"/>
<rect x="1417" y="330" width="2" height="1"/>
<rect x="1417" y="363" width="2" height="1"/>
<rect x="1417" y="396" width="2" height="1"/>
<rect x="1417" y="462" width="2" height="1"/>
<rect x="1417" y="495" width="2" height="1"/>
<rect x="1417" y="528" width="2" height="1"/>
<rect x="1417" y="561" width="2" height="1"/>
<rect x="1417" y="568" width="1" height="1"/>
<rect x="1417" y="613" width="1" height="1"/>
<rect x="1417" y="668" width="1" height="1"/>
<rect x="1417" y="673" width="1" height="1"/>
<rect x="1417" y="800" width="1" height="1"/>
</g>
<text x="1422.4" y="37" font-size="10" fill="#000" stroke="#000" stroke-width="0.3" textLength="32.5" lengthAdjust="spacingAndGlyphs">1.02580</text>
<text x="1422.4" y="70" font-size="10" fill="#000" stroke="#000" stroke-width="0.3" textLength="32.5" lengthAdjust="spacingAndGlyphs">1.02200</text>
<text x="1422.4" y="103" font-size="10" fill="#000" stroke="#000" stroke-width="0.3" textLength="32.5" lengthAdjust="spacingAndGlyphs">1.01820</text>
<text x="1422.4" y="136" font-size="10" fill="#000" stroke="#000" stroke-width="0.3" textLength="32.5" lengthAdjust="spacingAndGlyphs">1.01440</text>
<text x="1422.4" y="169" font-size="10" fill="#000" stroke="#000" stroke-width="0.3" textLength="32.5" lengthAdjust="spacingAndGlyphs">1.01050</text>
<text x="1422.4" y="202" font-size="10" fill="#000" stroke="#000" stroke-width="0.3" textLength="32.5" lengthAdjust="spacingAndGlyphs">1.00670</text>
<text x="1422.4" y="235" font-size="10" fill="#000" stroke="#000" stroke-width="0.3" textLength="32.5" lengthAdjust="spacingAndGlyphs">1.00290</text>
<text x="1422.4" y="268" font-size="10" fill="#000" stroke="#000" stroke-width="0.3" textLength="32.5" lengthAdjust="spacingAndGlyphs">0.99910</text>
<text x="1422.4" y="301" font-size="10" fill="#000" stroke="#000" stroke-width="0.3" textLength="32.5" lengthAdjust="spacingAndGlyphs">0.99530</text>
<text x="1422.4" y="334" font-size="10" fill="#000" stroke="#000" stroke-width="0.3" textLength="32.5" lengthAdjust="spacingAndGlyphs">0.99140</text>
<text x="1422.4" y="367" font-size="10" fill="#000" stroke="#000" stroke-width="0.3" textLength="32.5" lengthAdjust="spacingAndGlyphs">0.98760</text>
<text x="1422.4" y="400" font-size="10" fill="#000" stroke="#000" stroke-width="0.3" textLength="32.5" lengthAdjust="spacingAndGlyphs">0.98380</text>
<text x="1422.4" y="466" font-size="10" fill="#000" stroke="#000" stroke-width="0.3" textLength="32.5" lengthAdjust="spacingAndGlyphs">0.97610</text>
<text x="1422.4" y="499" font-size="10" fill="#000" stroke="#000" stroke-width="0.3" textLength="32.5" lengthAdjust="spacingAndGlyphs">0.97230</text>
<text x="1422.4" y="532" font-size="10" fill="#000" stroke="#000" stroke-width="0.3" textLength="32.5" lengthAdjust="spacingAndGlyphs">0.96850</text>
<text x="1422.4" y="565" font-size="10" fill="#000" stroke="#000" stroke-width="0.3" textLength="32.5" lengthAdjust="spacingAndGlyphs">0.96470</text>
<rect x="1418" y="146" width="39" height="11" fill="#ff0000" shape-rendering="crispEdges"/>
<text x="1422.4" y="155" font-size="10" fill="#fff" stroke="#fff" stroke-width="0.3" textLength="32.5" lengthAdjust="spacingAndGlyphs">1.01205</text>
<rect x="1418" y="241" width="39" height="11" fill="#ff0000" shape-rendering="crispEdges"/>
<text x="1422.4" y="250" font-size="10" fill="#fff" stroke="#fff" stroke-width="0.3" textLength="32.5" lengthAdjust="spacingAndGlyphs">1.00106</text>
<rect x="1418" y="301" width="39" height="11" fill="#00ff00" shape-rendering="crispEdges"/>
<text x="1422.4" y="310" font-size="10" fill="#fff" stroke="#fff" stroke-width="0.3" textLength="32.5" lengthAdjust="spacingAndGlyphs">0.99406</text>
<rect x="1418" y="422" width="39" height="11" fill="#0000ff" shape-rendering="crispEdges"/>
<text x="1422.4" y="431" font-size="10" fill="#fff" stroke="#fff" stroke-width="0.3" textLength="32.5" lengthAdjust="spacingAndGlyphs">0.98004</text>
<rect x="1418" y="509" width="39" height="11" fill="#0000ff" shape-rendering="crispEdges"/>
<text x="1422.4" y="518" font-size="10" fill="#fff" stroke="#fff" stroke-width="0.3" textLength="32.5" lengthAdjust="spacingAndGlyphs">0.97001</text>
<rect x="1418" y="364" width="39" height="11" fill="#000" shape-rendering="crispEdges"/>
<text x="1422.4" y="373" font-size="10" fill="#fff" stroke="#fff" stroke-width="0.3" textLength="32.5" lengthAdjust="spacingAndGlyphs">0.98688</text>
<path d="M4 32 L11.4 32 L7.7 36 Z" fill="#000"/>
<text x="16.3" y="36.6" font-size="10" fill="#000" stroke="#000" stroke-width="0.3" textLength="66.9" lengthAdjust="spacingAndGlyphs">USDCHF-,Daily</text>
<text x="90.2" y="36.6" font-size="10" fill="#000" stroke="#000" stroke-width="0.3" textLength="140.6" lengthAdjust="spacingAndGlyphs">0.98605 0.98700 0.98562 0.98688</text>
<path d="M1126.6 26 L1136.4 26 L1131.5 31 Z" fill="#c0c0c0"/>
<g shape-rendering="crispEdges" fill="#c0c0c0">
<rect x="1" y="578" width="1" height="36"/>
<rect x="5" y="579" width="1" height="35"/>
<rect x="9" y="583" width="1" height="31"/>
<rect x="13" y="584" width="1" height="30"/>
<rect x="17" y="583" width="1" height="31"/>
<rect x="21" y="581" width="1" height="33"/>
<rect x="25" y="579" width="1" height="35"/>
<rect x="29" y="579" width="1" height="35"/>
<rect x="33" y="579" width="1" height="35"/>
<rect x="37" y="581" width="1" height="33"/>
<rect x="41" y="581" width="1" height="33"/>
<rect x="45" y="580" width="1" height="34"/>
<rect x="49" y="581" width="1" height="33"/>
<rect x="53" y="582" width="1" height="32"/>
<rect x="57" y="580" width="1" height="34"/>
<rect x="61" y="577" width="1" height="37"/>
<rect x="65" y="574" width="1" height="40"/>
<rect x="69" y="575" width="1" height="39"/>
<rect x="73" y="575" width="1" height="39"/>
<rect x="77" y="577" width="1" height="37"/>
<rect x="81" y="577" width="1" height="37"/>
<rect x="85" y="580" width="1" height="34"/>
<rect x="89" y="582" width="1" height="32"/>
<rect x="93" y="582" width="1" height="32"/>
<rect x="97" y="582" width="1" height="32"/>
<rect x="101" y="582" width="1" height="32"/>
<rect x="105" y="580" width="1" height="34"/>
<rect x="109" y="582" width="1" height="32"/>
<rect x="113" y="583" width="1" height="31"/>
<rect x="117" y="584" width="1" height="30"/>
<rect x="121" y="590" width="1" height="24"/>
<rect x="125" y="594" width="1" height="20"/>
<rect x="129" y="602" width="1" height="12"/>
<rect x="133" y="607" width="1" height="7"/>
<rect x="137" y="611" width="1" height="3"/>
<rect x="141" y="613" width="1" height="2"/>
<rect x="145" y="613" width="1" height="3"/>
<rect x="149" y="613" width="1" height="4"/>
<rect x="153" y="613" width="1" height="4"/>
<rect x="157" y="613" width="1" height="3"/>
<rect x="161" y="613" width="1" height="6"/>
<rect x="165" y="613" width="1" height="7"/>
<rect x="169" y="613" width="1" height="5"/>
<rect x="173" y="613" width="1" height="4"/>
<rect x="177" y="613" width="1" height="4"/>
<rect x="181" y="613" width="1" height="4"/>
<rect x="185" y="613" width="1" height="4"/>
<rect x="189" y="613" width="1" height="7"/>
<rect x="193" y="613" width="1" height="11"/>
<rect x="197" y="613" width="1" height="14"/>
<rect x="201" y="613" width="1" height="16"/>
<rect x="205" y="613" width="1" height="15"/>
<rect x="209" y="613" width="1" height="15"/>
<rect x="213" y="613" width="1" height="14"/>
<rect x="217" y="613" width="1" height="11"/>
<rect x="221" y="613" width="1" height="8"/>
<rect x="225" y="613" width="1" height="9"/>
<rect x="229" y="613" width="1" height="9"/>
<rect x="233" y="613" width="1" height="9"/>
<rect x="237" y="613" width="1" height="13"/>
<rect x="241" y="613" width="1" height="11"/>
<rect x="245" y="613" width="1" height="10"/>
<rect x="249" y="613" width="1" height="13"/>
<rect x="253" y="613" width="1" height="16"/>
<rect x="257" y="613" width="1" height="13"/>
<rect x="261" y="613" width="1" height="15"/>
<rect x="265" y="613" width="1" height="17"/>
<rect x="269" y="613" width="1" height="20"/>
<rect x="273" y="613" width="1" height="23"/>
<rect x="277" y="613" width="1" height="25"/>
<rect x="281" y="613" width="1" height="22"/>
<rect x="285" y="613" width="1" height="21"/>
<rect x="289" y="613" width="1" height="20"/>
<rect x="293" y="613" width="1" height="19"/>
<rect x="297" y="613" width="1" height="22"/>
<rect x="301" y="613" width="1" height="24"/>
<rect x="305" y="613" width="1" height="29"/>
<rect x="309" y="613" width="1" height="26"/>
<rect x="313" y="613" width="1" height="24"/>
<rect x="317" y="613" width="1" height="22"/>
<rect x="321" y="613" width="1" height="21"/>
<rect x="325" y="613" width="1" height="18"/>
<rect x="329" y="613" width="1" height="13"/>
<rect x="333" y="613" width="1" height="6"/>
<rect x="337" y="613" width="1" height="1"/>
<rect x="341" y="608" width="1" height="6"/>
<rect x="345" y="604" width="1" height="10"/>
<rect x="349" y="600" width="1" height="14"/>
<rect x="353" y="599" width="1" height="15"/>
<rect x="357" y="598" width="1" height="16"/>
<rect x="361" y="599" width="1" height="15"/>
<rect x="365" y="600" width="1" height="14"/>
<rect x="369" y="601" width="1" height="13"/>
<rect x="373" y="601" width="1" height="13"/>
<rect x="377" y="601" width="1" height="13"/>
<rect x="381" y="601" width="1" height="13"/>
<rect x="385" y="601" width="1" height="13"/>
<rect x="389" y="601" width="1" height="13"/>
<rect x="393" y="599" width="1" height="15"/>
<rect x="397" y="597" width="1" height="17"/>
<rect x="401" y="594" width="1" height="20"/>
<rect x="405" y="592" width="1" height="22"/>
<rect x="409" y="592" width="1" height="22"/>
<rect x="413" y="592" width="1" height="22"/>
<rect x="417" y="590" width="1" height="24"/>
<rect x="421" y="588" width="1" height="26"/>
<rect x="425" y="584" width="1" height="30"/>
<rect x="429" y="584" width="1" height="30"/>
<rect x="433" y="585" width="1" height="29"/>
<rect x="437" y="585" width="1" height="29"/>
<rect x="441" y="586" width="1" height="28"/>
<rect x="445" y="589" width="1" height="25"/>
<rect x="449" y="593" width="1" height="21"/>
<rect x="453" y="595" width="1" height="19"/>
<rect x="457" y="598" width="1" height="16"/>
<rect x="461" y="600" width="1" height="14"/>
<rect x="465" y="602" width="1" height="12"/>
<rect x="469" y="603" width="1" height="11"/>
<rect x="473" y="604" width="1" height="10"/>
<rect x="477" y="607" width="1" height="7"/>
<rect x="481" y="608" width="1" height="6"/>
<rect x="485" y="609" width="1" height="5"/>
<rect x="489" y="610" width="1" height="4"/>
<rect x="493" y="608" width="1" height="6"/>
<rect x="497" y="606" width="1" height="8"/>
<rect x="501" y="601" width="1" height="13"/>
<rect x="505" y="599" width="1" height="15"/>
<rect x="509" y="597" width="1" height="17"/>
<rect x="513" y="595" width="1" height="19"/>
<rect x="517" y="595" width="1" height="19"/>
<rect x="521" y="597" width="1" height="17"/>
<rect x="525" y="599" width="1" height="15"/>
<rect x="529" y="602" width="1" height="12"/>
<rect x="533" y="604" width="1" height="10"/>
<rect x="537" y="606" width="1" height="8"/>
<rect x="541" y="610" width="1" height="4"/>
<rect x="545" y="613" width="1" height="5"/>
<rect x="549" y="613" width="1" height="10"/>
<rect x="553" y="613" width="1" height="12"/>
<rect x="557" y="613" width="1" height="14"/>
<rect x="561" y="613" width="1" height="17"/>
<rect x="565" y="613" width="1" height="18"/>
<rect x="569" y="613" width="1" height="18"/>
<rect x="573" y="613" width="1" height="17"/>
<rect x="577" y="613" width="1" height="16"/>
<rect x="581" y="613" width="1" height="15"/>
<rect x="585" y="613" width="1" height="12"/>
<rect x="589" y="613" width="1" height="11"/>
<rect x="593" y="613" width="1" height="10"/>
<rect x="597" y="613" width="1" height="7"/>
<rect x="601" y="613" width="1" height="5"/>
<rect x="605" y="613" width="1" height="4"/>
<rect x="609" y="613" width="1" height="3"/>
<rect x="613" y="613" width="1" height="2"/>
<rect x="617" y="611" width="1" height="3"/>
<rect x="621" y="609" width="1" height="5"/>
<rect x="625" y="608" width="1" height="6"/>
<rect x="629" y="607" width="1" height="7"/>
<rect x="633" y="605" width="1" height="9"/>
<rect x="637" y="602" width="1" height="12"/>
<rect x="641" y="598" width="1" height="16"/>
<rect x="645" y="592" width="1" height="22"/>
<rect x="649" y="588" width="1" height="26"/>
<rect x="653" y="585" width="1" height="29"/>
<rect x="657" y="580" width="1" height="34"/>
<rect x="661" y="576" width="1" height="38"/>
<rect x="665" y="574" width="1" height="40"/>
<rect x="669" y="573" width="1" height="41"/>
<rect x="673" y="573" width="1" height="41"/>
<rect x="677" y="573" width="1" height="41"/>
<rect x="681" y="574" width="1" height="40"/>
<rect x="685" y="576" width="1" height="38"/>
<rect x="689" y="576" width="1" height="38"/>
<rect x="693" y="579" width="1" height="35"/>
<rect x="697" y="581" width="1" height="33"/>
<rect x="701" y="583" width="1" height="31"/>
<rect x="705" y="584" width="1" height="30"/>
<rect x="709" y="584" width="1" height="30"/>
<rect x="713" y="588" width="1" height="26"/>
<rect x="717" y="592" width="1" height="22"/>
<rect x="721" y="598" width="1" height="16"/>
<rect x="725" y="605" width="1" height="9"/>
<rect x="729" y="609" width="1" height="5"/>
<rect x="733" y="612" width="1" height="2"/>
<rect x="737" y="613" width="1" height="1"/>
<rect x="741" y="613" width="1" height="2"/>
<rect x="745" y="613" width="1" height="3"/>
<rect x="749" y="613" width="1" height="4"/>
<rect x="753" y="613" width="1" height="4"/>
<rect x="757" y="613" width="1" height="5"/>
<rect x="761" y="613" width="1" height="10"/>
<rect x="765" y="613" width="1" height="14"/>
<rect x="769" y="613" width="1" height="17"/>
<rect x="773" y="613" width="1" height="17"/>
<rect x="777" y="613" width="1" height="16"/>
<rect x="781" y="613" width="1" height="14"/>
<rect x="785" y="613" width="1" height="13"/>
<rect x="789" y="613" width="1" height="16"/>
<rect x="793" y="613" width="1" height="19"/>
<rect x="797" y="613" width="1" height="25"/>
<rect x="801" y="613" width="1" height="30"/>
<rect x="805" y="613" width="1" height="32"/>
<rect x="809" y="613" width="1" height="35"/>
<rect x="813" y="613" width="1" height="39"/>
<rect x="817" y="613" width="1" height="41"/>
<rect x="821" y="613" width="1" height="42"/>
<rect x="825" y="613" width="1" height="40"/>
<rect x="829" y="613" width="1" height="37"/>
<rect x="833" y="613" width="1" height="35"/>
<rect x="837" y="613" width="1" height="30"/>
<rect x="841" y="613" width="1" height="25"/>
<rect x="845" y="613" width="1" height="22"/>
<rect x="849" y="613" width="1" height="18"/>
<rect x="853" y="613" width="1" height="19"/>
<rect x="857" y="613" width="1" height="26"/>
<rect x="861" y="613" width="1" height="35"/>
<rect x="865" y="613" width="1" height="41"/>
<rect x="869" y="613" width="1" height="48"/>
<rect x="873" y="613" width="1" height="51"/>
<rect x="877" y="613" width="1" height="52"/>
<rect x="881" y="613" width="1" height="52"/>
<rect x="885" y="613" width="1" height="53"/>
<rect x="889" y="613" width="1" height="50"/>
<rect x="893" y="613" width="1" height="42"/>
<rect x="897" y="613" width="1" height="37"/>
<rect x="901" y="613" width="1" height="33"/>
<rect x="905" y="613" width="1" height="29"/>
<rect x="909" y="613" width="1" height="22"/>
<rect x="913" y="613" width="1" height="17"/>
<rect x="917" y="613" width="1" height="11"/>
<rect x="921" y="613" width="1" height="6"/>
<rect x="925" y="613" width="1" height="6"/>
<rect x="929" y="613" width="1" height="4"/>
<rect x="933" y="613" width="1" height="6"/>
<rect x="937" y="613" width="1" height="8"/>
<rect x="941" y="613" width="1" height="9"/>
<rect x="945" y="613" width="1" height="7"/>
<rect x="949" y="613" width="1" height="7"/>
<rect x="953" y="613" width="1" height="9"/>
<rect x="957" y="613" width="1" height="11"/>
<rect x="961" y="613" width="1" height="11"/>
<rect x="965" y="613" width="1" height="12"/>
<rect x="969" y="613" width="1" height="11"/>
<rect x="973" y="613" width="1" height="11"/>
<rect x="977" y="613" width="1" height="6"/>
<rect x="981" y="613" width="1" height="1"/>
<rect x="985" y="610" width="1" height="4"/>
<rect x="989" y="608" width="1" height="6"/>
<rect x="993" y="607" width="1" height="7"/>
<rect x="997" y="605" width="1" height="9"/>
<rect x="1001" y="605" width="1" height="9"/>
<rect x="1005" y="610" width="1" height="4"/>
<rect x="1009" y="613" width="1" height="2"/>
<rect x="1013" y="613" width="1" height="12"/>
<rect x="1017" y="613" width="1" height="16"/>
<rect x="1021" y="613" width="1" height="20"/>
<rect x="1025" y="613" width="1" height="24"/>
<rect x="1029" y="613" width="1" height="27"/>
<rect x="1033" y="613" width="1" height="30"/>
<rect x="1037" y="613" width="1" height="33"/>
<rect x="1041" y="613" width="1" height="31"/>
<rect x="1045" y="613" width="1" height="31"/>
<rect x="1049" y="613" width="1" height="29"/>
<rect x="1053" y="613" width="1" height="26"/>
<rect x="1057" y="613" width="1" height="22"/>
<rect x="1061" y="613" width="1" height="18"/>
<rect x="1065" y="613" width="1" height="17"/>
<rect x="1069" y="613" width="1" height="13"/>
<rect x="1073" y="613" width="1" height="9"/>
<rect x="1077" y="613" width="1" height="11"/>
<rect x="1081" y="613" width="1" height="14"/>
<rect x="1085" y="613" width="1" height="12"/>
<rect x="1089" y="613" width="1" height="9"/>
<rect x="1093" y="613" width="1" height="7"/>
<rect x="1097" y="613" width="1" height="2"/>
<rect x="1101" y="608" width="1" height="6"/>
<rect x="1105" y="604" width="1" height="10"/>
<rect x="1109" y="600" width="1" height="14"/>
<rect x="1113" y="599" width="1" height="15"/>
<rect x="1117" y="602" width="1" height="12"/>
<rect x="1121" y="602" width="1" height="12"/>
<rect x="1125" y="601" width="1" height="13"/>
</g>
<polyline points="1.5,580.2 5.5,579.2 9.5,579.2 13.5,579.6 17.5,580.0 21.5,580.5 25.5,580.8 29.5,581.0 33.5,581.2 37.5,581.5 41.5,581.7 45.5,581.4 49.5,581.0 53.5,580.9 57.5,580.8 61.5,580.6 65.5,580.0 69.5,579.6 73.5,578.9 77.5,578.4 81.5,578.1 85.5,578.0 89.5,578.1 93.5,578.3 97.5,578.8 101.5,579.7 105.5,580.3 109.5,581.1 113.5,581.8 117.5,582.6 121.5,583.6 125.5,585.0 129.5,587.2 133.5,589.9 137.5,593.1 141.5,596.9 145.5,600.5 149.5,604.1 153.5,607.6 157.5,610.5 161.5,613.2 165.5,615.1 169.5,616.2 173.5,616.8 177.5,617.0 181.5,617.1 185.5,617.2 189.5,617.5 193.5,618.4 197.5,619.2 201.5,620.2 205.5,621.4 209.5,622.6 213.5,623.7 217.5,624.4 221.5,624.8 225.5,625.0 229.5,624.9 233.5,624.3 237.5,624.0 241.5,623.4 245.5,622.8 249.5,622.7 253.5,623.3 257.5,623.9 261.5,624.5 265.5,625.4 269.5,626.6 273.5,627.8 277.5,629.4 281.5,630.8 285.5,631.5 289.5,632.0 293.5,632.7 297.5,633.5 301.5,634.2 305.5,635.2 309.5,635.5 313.5,635.4 317.5,635.3 321.5,635.4 325.5,635.2 329.5,634.5 333.5,632.7 337.5,630.1 341.5,626.5 345.5,622.7 349.5,618.8 353.5,614.9 357.5,610.9 361.5,607.5 365.5,604.7 369.5,602.8 373.5,601.4 377.5,600.7 381.5,600.4 385.5,600.5 389.5,600.7 393.5,600.8 397.5,600.6 401.5,599.9 405.5,598.9 409.5,597.9 413.5,596.9 417.5,595.6 421.5,594.2 425.5,592.4 429.5,590.7 433.5,589.4 437.5,588.5 441.5,587.9 445.5,587.7 449.5,587.7 453.5,588.2 457.5,589.4 461.5,591.1 465.5,593.0 469.5,595.1 473.5,597.2 477.5,599.5 481.5,601.6 485.5,603.4 489.5,605.1 493.5,606.2 497.5,606.9 501.5,606.8 505.5,606.3 509.5,605.5 513.5,604.2 517.5,602.7 521.5,601.3 525.5,600.1 529.5,599.5 533.5,599.3 537.5,599.9 541.5,601.1 545.5,603.2 549.5,606.2 553.5,609.5 557.5,612.8 561.5,616.1 565.5,619.2 569.5,622.0 573.5,624.6 577.5,626.6 581.5,627.8 585.5,628.1 589.5,627.9 593.5,627.4 597.5,626.3 601.5,625.0 605.5,623.4 609.5,621.8 613.5,620.2 617.5,618.4 621.5,616.7 625.5,615.1 629.5,613.4 633.5,611.9 637.5,610.2 641.5,608.2 645.5,605.7 649.5,602.8 653.5,599.8 657.5,596.5 661.5,593.0 665.5,589.3 669.5,585.8 673.5,582.5 677.5,579.7 681.5,577.7 685.5,576.3 689.5,575.4 693.5,575.2 697.5,575.8 701.5,576.9 705.5,578.1 709.5,579.4 713.5,581.0 717.5,583.1 721.5,585.5 725.5,588.7 729.5,592.0 733.5,595.4 737.5,598.8 741.5,602.1 745.5,605.5 749.5,608.7 753.5,611.3 757.5,613.5 761.5,615.4 765.5,617.3 769.5,619.2 773.5,620.9 777.5,622.5 781.5,623.8 785.5,624.8 789.5,626.2 793.5,627.7 797.5,629.4 801.5,631.1 805.5,632.8 809.5,634.7 813.5,637.3 817.5,640.3 821.5,643.4 825.5,646.1 829.5,648.1 833.5,649.2 837.5,649.2 841.5,648.5 845.5,647.1 849.5,644.7 853.5,642.3 857.5,640.6 861.5,640.0 865.5,640.4 869.5,641.9 873.5,644.3 877.5,647.2 881.5,650.6 885.5,654.4 889.5,657.9 893.5,659.6 897.5,659.9 901.5,659.0 905.5,656.9 909.5,653.7 913.5,649.8 917.5,645.1 921.5,639.9 925.5,635.0 929.5,630.7 933.5,627.2 937.5,624.4 941.5,622.2 945.5,620.5 949.5,619.4 953.5,619.2 957.5,619.7 961.5,620.4 965.5,621.3 969.5,621.9 973.5,622.2 977.5,622.0 981.5,621.3 985.5,620.3 989.5,618.8 993.5,617.1 997.5,615.0 1001.5,612.9 1005.5,611.4 1009.5,610.4 1013.5,611.0 1017.5,612.7 1021.5,615.2 1025.5,618.3 1029.5,621.8 1033.5,626.0 1037.5,630.4 1041.5,634.1 1045.5,637.4 1049.5,639.3 1053.5,640.3 1057.5,640.5 1061.5,639.9 1065.5,638.8 1069.5,636.9 1073.5,634.2 1077.5,632.0 1081.5,630.0 1085.5,628.2 1089.5,626.4 1093.5,624.6 1097.5,622.9 1101.5,620.6 1105.5,618.2 1109.5,615.8 1113.5,613.1 1117.5,610.5 1121.5,608.0 1125.5,605.8" fill="none" stroke="#ff0000" stroke-width="1" stroke-dasharray="3 3" shape-rendering="crispEdges"/>
<text x="5.4" y="578.6" font-size="10" fill="#000" stroke="#000" stroke-width="0.3" textLength="147.5" lengthAdjust="spacingAndGlyphs">MACD(12,26,9) 0.001655 0.001045</text>
<text x="1420" y="577" font-size="10" fill="#000" stroke="#000" stroke-width="0.3" textLength="37.4" lengthAdjust="spacingAndGlyphs">0.006286</text>
<text x="1420" y="617" font-size="10" fill="#000" stroke="#000" stroke-width="0.3" textLength="17.6" lengthAdjust="spacingAndGlyphs">0.00</text>
<text x="1420" y="666" font-size="10" fill="#000" stroke="#000" stroke-width="0.3" textLength="35.7" lengthAdjust="spacingAndGlyphs">-0.00762</text>
<g shape-rendering="crispEdges">
<line x1="1" y1="711.5" x2="1416" y2="711.5" stroke="#c0c0c0" stroke-width="1" stroke-dasharray="3 3"/>
<line x1="1" y1="762.5" x2="1416" y2="762.5" stroke="#c0c0c0" stroke-width="1" stroke-dasharray="3 3"/>
</g>
<polyline points="1.5,716.6 5.5,717.0 9.5,728.9 13.5,722.8 17.5,714.9 21.5,713.4 25.5,711.6 29.5,714.6 33.5,715.5 37.5,720.8 41.5,716.2 45.5,711.5 49.5,720.6 53.5,719.3 57.5,712.9 61.5,708.3 65.5,705.0 69.5,721.5 73.5,717.7 77.5,723.7 81.5,720.7 85.5,727.6 89.5,726.8 93.5,720.5 97.5,721.4 101.5,720.6 105.5,714.5 109.5,725.3 113.5,725.3 117.5,723.6 121.5,739.0 125.5,739.7 129.5,749.7 133.5,746.5 137.5,747.7 141.5,746.0 145.5,740.0 149.5,740.1 153.5,738.0 157.5,737.6 161.5,748.0 165.5,741.5 169.5,734.1 173.5,736.6 177.5,737.6 181.5,738.8 185.5,739.7 189.5,748.0 193.5,754.9 197.5,753.1 201.5,753.5 205.5,744.0 209.5,744.8 213.5,741.7 217.5,731.6 221.5,732.6 225.5,743.7 229.5,744.3 233.5,740.3 237.5,753.2 241.5,736.5 245.5,738.6 249.5,750.1 253.5,749.2 257.5,735.5 261.5,745.5 265.5,747.3 269.5,749.6 273.5,752.5 277.5,750.3 281.5,738.6 285.5,741.4 289.5,742.7 293.5,743.4 297.5,751.8 301.5,749.0 305.5,757.0 309.5,740.6 313.5,740.3 317.5,740.7 321.5,744.0 325.5,735.6 329.5,731.9 333.5,727.1 337.5,725.8 341.5,725.5 345.5,723.0 349.5,723.9 353.5,727.7 357.5,727.0 361.5,732.4 365.5,733.1 369.5,735.1 373.5,729.4 377.5,732.0 381.5,731.1 385.5,728.5 389.5,728.0 393.5,723.1 397.5,720.0 401.5,715.8 405.5,715.6 409.5,723.5 413.5,725.1 417.5,716.6 421.5,713.5 425.5,709.7 429.5,721.3 433.5,721.5 437.5,722.2 441.5,722.5 445.5,731.9 449.5,734.9 453.5,733.0 457.5,735.7 461.5,736.1 465.5,735.2 469.5,736.6 473.5,732.7 477.5,744.3 481.5,736.9 485.5,739.3 489.5,737.5 493.5,724.0 497.5,725.1 501.5,712.9 505.5,723.7 509.5,722.2 513.5,718.5 517.5,725.9 521.5,735.9 525.5,735.2 529.5,738.2 533.5,737.8 537.5,740.9 541.5,746.2 545.5,759.0 549.5,756.4 553.5,750.1 557.5,750.7 561.5,753.7 565.5,749.4 569.5,747.1 573.5,746.2 577.5,742.9 581.5,744.9 585.5,733.9 589.5,737.4 593.5,739.3 597.5,732.2 601.5,732.6 605.5,731.7 609.5,735.0 613.5,733.6 617.5,726.3 621.5,725.1 625.5,725.1 629.5,726.3 633.5,722.6 637.5,713.5 641.5,708.2 645.5,701.8 649.5,705.6 653.5,704.2 657.5,698.7 661.5,698.5 665.5,700.3 669.5,704.3 673.5,703.8 677.5,703.5 681.5,706.2 685.5,713.9 689.5,709.9 693.5,717.2 697.5,722.4 701.5,720.3 705.5,715.0 709.5,713.6 713.5,731.8 717.5,740.1 721.5,745.3 725.5,755.1 729.5,745.7 733.5,747.0 737.5,741.7 741.5,739.1 745.5,739.8 749.5,745.3 753.5,738.5 757.5,743.2 761.5,754.4 765.5,756.7 769.5,754.8 773.5,749.2 777.5,741.5 781.5,738.6 785.5,741.8 789.5,753.3 793.5,754.8 797.5,763.7 801.5,763.8 805.5,759.1 809.5,762.6 813.5,767.6 817.5,758.7 821.5,759.8 825.5,752.2 829.5,746.4 833.5,748.6 837.5,737.4 841.5,737.6 845.5,738.3 849.5,734.0 853.5,748.0 857.5,761.1 861.5,764.6 865.5,765.7 869.5,768.2 873.5,762.5 877.5,757.2 881.5,758.9 885.5,759.3 889.5,750.6 893.5,737.8 897.5,740.6 901.5,740.0 905.5,741.4 909.5,730.6 913.5,731.6 917.5,727.7 921.5,728.6 925.5,738.0 929.5,734.1 933.5,743.5 937.5,743.6 941.5,743.0 945.5,736.6 949.5,738.6 953.5,745.3 957.5,745.6 961.5,744.6 965.5,745.3 969.5,739.2 973.5,740.8 977.5,728.7 981.5,724.1 985.5,725.5 989.5,729.2 993.5,733.1 997.5,726.1 1001.5,734.4 1005.5,746.7 1009.5,745.9 1013.5,759.8 1017.5,750.6 1021.5,751.6 1025.5,752.6 1029.5,754.6 1033.5,755.4 1037.5,758.1 1041.5,744.6 1045.5,748.2 1049.5,742.8 1053.5,740.0 1057.5,738.2 1061.5,734.9 1065.5,740.6 1069.5,733.8 1073.5,731.5 1077.5,745.2 1081.5,746.8 1085.5,737.6 1089.5,734.7 1093.5,734.2 1097.5,728.1 1101.5,722.5 1105.5,724.7 1109.5,723.3 1113.5,730.1 1117.5,739.3 1121.5,731.9 1125.5,730.9" fill="none" stroke="#1e90ff" stroke-width="1" shape-rendering="crispEdges"/>
<text x="5.4" y="683.6" font-size="10" fill="#000" stroke="#000" stroke-width="0.3" textLength="67.5" lengthAdjust="spacingAndGlyphs">RSI(14) 54.7592</text>
<text x="1420" y="682" font-size="10" fill="#000" stroke="#000" stroke-width="0.3" textLength="14.9" lengthAdjust="spacingAndGlyphs">100</text>
<text x="1419.5" y="715" font-size="10" fill="#000" stroke="#000" stroke-width="0.3" textLength="9.9" lengthAdjust="spacingAndGlyphs">70</text>
<text x="1419.5" y="766" font-size="10" fill="#000" stroke="#000" stroke-width="0.3" textLength="9.9" lengthAdjust="spacingAndGlyphs">30</text>
<text x="1420" y="798" font-size="10" fill="#000" stroke="#000" stroke-width="0.3" textLength="5.0" lengthAdjust="spacingAndGlyphs">0</text>
<g shape-rendering="crispEdges" fill="#000">
<rect x="1" y="802" width="1" height="3"/>
<rect x="65" y="802" width="1" height="3"/>
<rect x="129" y="802" width="1" height="3"/>
<rect x="193" y="802" width="1" height="3"/>
<rect x="257" y="802" width="1" height="3"/>
<rect x="321" y="802" width="1" height="3"/>
<rect x="385" y="802" width="1" height="3"/>
<rect x="449" y="802" width="1" height="3"/>
<rect x="513" y="802" width="1" height="3"/>
<rect x="577" y="802" width="1" height="3"/>
<rect x="641" y="802" width="1" height="3"/>
<rect x="705" y="802" width="1" height="3"/>
<rect x="769" y="802" width="1" height="3"/>
<rect x="833" y="802" width="1" height="3"/>
<rect x="897" y="802" width="1" height="3"/>
<rect x="961" y="802" width="1" height="3"/>
<rect x="1025" y="802" width="1" height="3"/>
<rect x="1089" y="802" width="1" height="3"/>
</g>
<text x="0.3" y="814" font-size="10" fill="#000" stroke="#000" stroke-width="0.3" textLength="51.5" lengthAdjust="spacingAndGlyphs">12 Oct 2018</text>
<text x="63.9" y="814" font-size="10" fill="#000" stroke="#000" stroke-width="0.3" textLength="51.5" lengthAdjust="spacingAndGlyphs">31 Oct 2018</text>
<text x="127.9" y="814" font-size="10" fill="#000" stroke="#000" stroke-width="0.3" textLength="53.6" lengthAdjust="spacingAndGlyphs">19 Nov 2018</text>
<text x="191.9" y="814" font-size="10" fill="#000" stroke="#000" stroke-width="0.3" textLength="48.3" lengthAdjust="spacingAndGlyphs">7 Dec 2018</text>
<text x="255.9" y="814" font-size="10" fill="#000" stroke="#000" stroke-width="0.3" textLength="53.6" lengthAdjust="spacingAndGlyphs">26 Dec 2018</text>
<text x="319.9" y="814" font-size="10" fill="#000" stroke="#000" stroke-width="0.3" textLength="52.0" lengthAdjust="spacingAndGlyphs">14 Jan 2019</text>
<text x="383.9" y="814" font-size="10" fill="#000" stroke="#000" stroke-width="0.3" textLength="47.8" lengthAdjust="spacingAndGlyphs">1 Feb 2019</text>
<text x="447.9" y="814" font-size="10" fill="#000" stroke="#000" stroke-width="0.3" textLength="53.1" lengthAdjust="spacingAndGlyphs">20 Feb 2019</text>
<text x="511.9" y="814" font-size="10" fill="#000" stroke="#000" stroke-width="0.3" textLength="52.4" lengthAdjust="spacingAndGlyphs">11 Mar 2019</text>
<text x="575.9" y="814" font-size="10" fill="#000" stroke="#000" stroke-width="0.3" textLength="53.1" lengthAdjust="spacingAndGlyphs">29 Mar 2019</text>
<text x="639.9" y="814" font-size="10" fill="#000" stroke="#000" stroke-width="0.3" textLength="51.0" lengthAdjust="spacingAndGlyphs">17 Apr 2019</text>
<text x="703.9" y="814" font-size="10" fill="#000" stroke="#000" stroke-width="0.3" textLength="49.4" lengthAdjust="spacingAndGlyphs">7 May 2019</text>
<text x="767.9" y="814" font-size="10" fill="#000" stroke="#000" stroke-width="0.3" textLength="54.6" lengthAdjust="spacingAndGlyphs">26 May 2019</text>
<text x="831.9" y="814" font-size="10" fill="#000" stroke="#000" stroke-width="0.3" textLength="52.0" lengthAdjust="spacingAndGlyphs">13 Jun 2019</text>
<text x="895.9" y="814" font-size="10" fill="#000" stroke="#000" stroke-width="0.3" textLength="43.6" lengthAdjust="spacingAndGlyphs">2 Jul 2019</text>
<text x="959.9" y="814" font-size="10" fill="#000" stroke="#000" stroke-width="0.3" textLength="48.9" lengthAdjust="spacingAndGlyphs">21 Jul 2019</text>
<text x="1023.9" y="814" font-size="10" fill="#000" stroke="#000" stroke-width="0.3" textLength="47.8" lengthAdjust="spacingAndGlyphs">8 Aug 2019</text>
<text x="1087.9" y="814" font-size="10" fill="#000" stroke="#000" stroke-width="0.3" textLength="53.1" lengthAdjust="spacingAndGlyphs">27 Aug 2019</text>
<g shape-rendering="crispEdges">
<rect x="0" y="822" width="1457" height="1" fill="#e6e6e6"/>
<rect x="0" y="823" width="1457" height="1" fill="#f4f4f4"/>
<rect x="0" y="824" width="1457" height="1" fill="#000"/>
<rect x="0" y="825" width="1457" height="19" fill="#f0f0f0"/>
<rect x="0" y="844" width="1457" height="4" fill="#fdfdfd"/>
<rect x="0" y="848" width="1457" height="1" fill="#c8c8c8"/>
<rect x="0" y="849" width="1457" height="3" fill="#f6f6f6"/>
<rect x="219" y="824" width="106" height="18" fill="#fff"/>
<rect x="218" y="824" width="1" height="19" fill="#000"/>
<rect x="325" y="824" width="1" height="19" fill="#000"/>
<rect x="218" y="842" width="108" height="1" fill="#000"/>
<rect x="220" y="843" width="107" height="1" fill="#9a9a9a"/>
<rect x="326" y="826" width="1" height="18" fill="#9a9a9a"/>
</g>
<text x="12.6" y="838.5" font-size="12.6" fill="#6a6a6a" textLength="85.6" lengthAdjust="spacingAndGlyphs">EURUSD-,Daily</text>
<text x="120.3" y="838.5" font-size="12.6" fill="#6a6a6a" textLength="86.8" lengthAdjust="spacingAndGlyphs">AUDUSD-,Daily</text>
<text x="229.3" y="838.5" font-size="12.6" fill="#000" textLength="84.7" lengthAdjust="spacingAndGlyphs">USDCHF-,Daily</text>
<text x="336.2" y="838.5" font-size="12.6" fill="#6a6a6a" textLength="86.4" lengthAdjust="spacingAndGlyphs">USDCAD-,Daily</text>
<text x="445.4" y="838.5" font-size="12.6" fill="#6a6a6a" textLength="88.4" lengthAdjust="spacingAndGlyphs">USDCNH-,Daily</text>
<text x="556.2" y="838.5" font-size="12.6" fill="#6a6a6a" textLength="97.5" lengthAdjust="spacingAndGlyphs">EURCHF-,Weekly</text>
<text x="677.7" y="838.5" font-size="12.6" fill="#6a6a6a" textLength="100.5" lengthAdjust="spacingAndGlyphs">XAUUSD-,Weekly</text>
<text x="800.7" y="838.5" font-size="12.6" fill="#6a6a6a" textLength="73.6" lengthAdjust="spacingAndGlyphs">GBPUSD-,H1</text>
<text x="896.1" y="838.5" font-size="12.6" fill="#6a6a6a" textLength="58.4" lengthAdjust="spacingAndGlyphs">UKOil-,H1</text>
<text x="975.5" y="838.5" font-size="12.6" fill="#6a6a6a" textLength="83.7" lengthAdjust="spacingAndGlyphs">USDX-,Weekly</text>
<text x="1080.3" y="838.5" font-size="12.6" fill="#6a6a6a" textLength="97.7" lengthAdjust="spacingAndGlyphs">EURCHF-,Weekly</text>
<g shape-rendering="crispEdges" fill="#6a6a6a">
<rect x="110" y="827" width="1" height="14"/>
<rect x="434" y="827" width="1" height="14"/>
<rect x="546" y="827" width="1" height="14"/>
<rect x="667" y="827" width="1" height="14"/>
<rect x="790" y="827" width="1" height="14"/>
<rect x="886" y="827" width="1" height="14"/>
<rect x="966" y="827" width="1" height="14"/>
<rect x="1070" y="827" width="1" height="14"/>
<rect x="1190" y="827" width="1" height="14"/>
</g>
<path d="M1435.5 829.5 L1435.5 836.5 L1431.5 833 Z" fill="#8a8a8a"/>
<path d="M1450 829.5 L1450 836.5 L1454 833 Z" fill="#8a8a8a"/>
</svg>
</body></html>
